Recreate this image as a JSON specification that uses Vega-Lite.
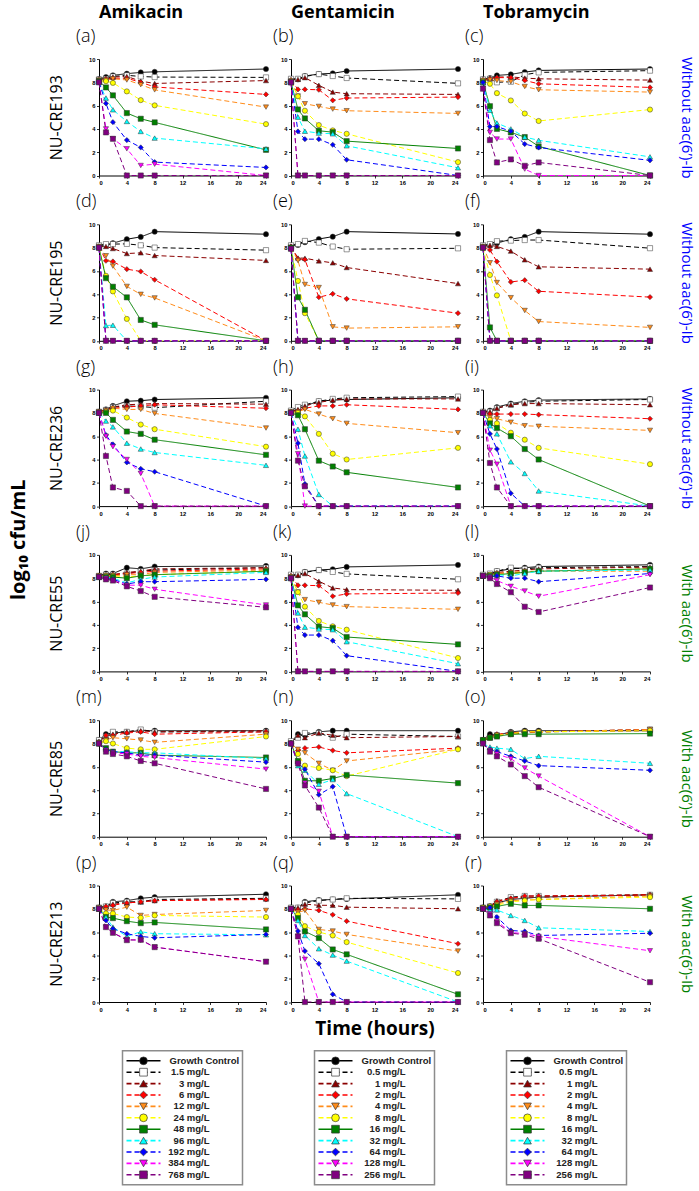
{
"$schema":"https://vega.github.io/schema/vega-lite/v6.json",
"padding":{"left":8,"top":4,"right":2,"bottom":2},
"datasets":{
"lgA":[{"k":0,"label":"Growth Control"},{"k":1,"label":"1.5 mg/L"},{"k":2,"label":"3 mg/L"},{"k":3,"label":"6 mg/L"},{"k":4,"label":"12 mg/L"},{"k":5,"label":"24 mg/L"},{"k":6,"label":"48 mg/L"},{"k":7,"label":"96 mg/L"},{"k":8,"label":"192 mg/L"},{"k":9,"label":"384 mg/L"},{"k":10,"label":"768 mg/L"}],
"lgG":[{"k":0,"label":"Growth Control"},{"k":1,"label":"0.5 mg/L"},{"k":2,"label":"1 mg/L"},{"k":3,"label":"2 mg/L"},{"k":4,"label":"4 mg/L"},{"k":5,"label":"8 mg/L"},{"k":6,"label":"16 mg/L"},{"k":7,"label":"32 mg/L"},{"k":8,"label":"64 mg/L"},{"k":9,"label":"128 mg/L"},{"k":10,"label":"256 mg/L"}],
"ts":[
{"p":"a","k":0,"t":0,"v":8.28},{"p":"a","k":0,"t":1,"v":8.45},{"p":"a","k":0,"t":2,"v":8.6},{"p":"a","k":0,"t":4,"v":8.74},{"p":"a","k":0,"t":6,"v":8.85},{"p":"a","k":0,"t":8,"v":8.9},{"p":"a","k":0,"t":24,"v":9.14},
{"p":"a","k":1,"t":0,"v":8.25},{"p":"a","k":1,"t":1,"v":8.3},{"p":"a","k":1,"t":2,"v":8.5},{"p":"a","k":1,"t":4,"v":8.6},{"p":"a","k":1,"t":6,"v":8.5},{"p":"a","k":1,"t":8,"v":8.45},{"p":"a","k":1,"t":24,"v":8.42},
{"p":"a","k":2,"t":0,"v":8.2},{"p":"a","k":2,"t":1,"v":8.3},{"p":"a","k":2,"t":2,"v":8.45},{"p":"a","k":2,"t":4,"v":8.5},{"p":"a","k":2,"t":6,"v":8.1},{"p":"a","k":2,"t":8,"v":7.9},{"p":"a","k":2,"t":24,"v":8.15},
{"p":"a","k":3,"t":0,"v":8.2},{"p":"a","k":3,"t":1,"v":8.3},{"p":"a","k":3,"t":2,"v":8.35},{"p":"a","k":3,"t":4,"v":8.35},{"p":"a","k":3,"t":6,"v":8.0},{"p":"a","k":3,"t":8,"v":7.6},{"p":"a","k":3,"t":24,"v":6.96},
{"p":"a","k":4,"t":0,"v":8.2},{"p":"a","k":4,"t":1,"v":8.2},{"p":"a","k":4,"t":2,"v":8.3},{"p":"a","k":4,"t":4,"v":8.2},{"p":"a","k":4,"t":6,"v":7.8},{"p":"a","k":4,"t":8,"v":7.35},{"p":"a","k":4,"t":24,"v":5.87},
{"p":"a","k":5,"t":0,"v":8.1},{"p":"a","k":5,"t":1,"v":8.1},{"p":"a","k":5,"t":2,"v":7.95},{"p":"a","k":5,"t":4,"v":7.22},{"p":"a","k":5,"t":6,"v":6.47},{"p":"a","k":5,"t":8,"v":6.02},{"p":"a","k":5,"t":24,"v":4.41},
{"p":"a","k":6,"t":0,"v":8.1},{"p":"a","k":6,"t":1,"v":7.56},{"p":"a","k":6,"t":2,"v":6.88},{"p":"a","k":6,"t":4,"v":5.36},{"p":"a","k":6,"t":6,"v":4.87},{"p":"a","k":6,"t":8,"v":4.56},{"p":"a","k":6,"t":24,"v":2.2},
{"p":"a","k":7,"t":0,"v":8.0},{"p":"a","k":7,"t":1,"v":6.65},{"p":"a","k":7,"t":2,"v":5.64},{"p":"a","k":7,"t":4,"v":4.64},{"p":"a","k":7,"t":6,"v":3.78},{"p":"a","k":7,"t":8,"v":3.21},{"p":"a","k":7,"t":24,"v":2.29},
{"p":"a","k":8,"t":0,"v":8.0},{"p":"a","k":8,"t":1,"v":6.19},{"p":"a","k":8,"t":2,"v":4.58},{"p":"a","k":8,"t":4,"v":3.04},{"p":"a","k":8,"t":6,"v":2.41},{"p":"a","k":8,"t":8,"v":1.15},{"p":"a","k":8,"t":24,"v":0.69},
{"p":"a","k":9,"t":0,"v":8.0},{"p":"a","k":9,"t":1,"v":4.0},{"p":"a","k":9,"t":2,"v":3.15},{"p":"a","k":9,"t":4,"v":2.29},{"p":"a","k":9,"t":6,"v":0.86},{"p":"a","k":9,"t":8,"v":0.97},{"p":"a","k":9,"t":24,"v":0},
{"p":"a","k":10,"t":0,"v":8.0},{"p":"a","k":10,"t":1,"v":3.7},{"p":"a","k":10,"t":2,"v":3.15},{"p":"a","k":10,"t":4,"v":0},{"p":"a","k":10,"t":6,"v":0},{"p":"a","k":10,"t":8,"v":0},{"p":"a","k":10,"t":24,"v":0},
{"p":"b","k":0,"t":0,"v":8.25},{"p":"b","k":0,"t":1,"v":8.25},{"p":"b","k":0,"t":2,"v":8.54},{"p":"b","k":0,"t":4,"v":8.71},{"p":"b","k":0,"t":6,"v":8.77},{"p":"b","k":0,"t":8,"v":8.97},{"p":"b","k":0,"t":24,"v":9.14},
{"p":"b","k":1,"t":0,"v":8.3},{"p":"b","k":1,"t":1,"v":8.3},{"p":"b","k":1,"t":2,"v":8.5},{"p":"b","k":1,"t":4,"v":8.7},{"p":"b","k":1,"t":6,"v":8.54},{"p":"b","k":1,"t":8,"v":8.37},{"p":"b","k":1,"t":24,"v":7.91},
{"p":"b","k":2,"t":0,"v":8.2},{"p":"b","k":2,"t":1,"v":8.25},{"p":"b","k":2,"t":2,"v":8.4},{"p":"b","k":2,"t":4,"v":7.74},{"p":"b","k":2,"t":6,"v":7.16},{"p":"b","k":2,"t":8,"v":7.02},{"p":"b","k":2,"t":24,"v":6.96},
{"p":"b","k":3,"t":0,"v":8.2},{"p":"b","k":3,"t":1,"v":7.39},{"p":"b","k":3,"t":2,"v":7.39},{"p":"b","k":3,"t":4,"v":7.36},{"p":"b","k":3,"t":6,"v":6.45},{"p":"b","k":3,"t":8,"v":6.65},{"p":"b","k":3,"t":24,"v":6.73},
{"p":"b","k":4,"t":0,"v":8.1},{"p":"b","k":4,"t":1,"v":6.82},{"p":"b","k":4,"t":2,"v":6.16},{"p":"b","k":4,"t":4,"v":5.93},{"p":"b","k":4,"t":6,"v":5.7},{"p":"b","k":4,"t":8,"v":5.56},{"p":"b","k":4,"t":24,"v":5.33},
{"p":"b","k":5,"t":0,"v":8.1},{"p":"b","k":5,"t":1,"v":6.8},{"p":"b","k":5,"t":2,"v":5.56},{"p":"b","k":5,"t":4,"v":4.33},{"p":"b","k":5,"t":6,"v":3.87},{"p":"b","k":5,"t":8,"v":3.58},{"p":"b","k":5,"t":24,"v":1.15},
{"p":"b","k":6,"t":0,"v":8.0},{"p":"b","k":6,"t":1,"v":5.67},{"p":"b","k":6,"t":2,"v":4.9},{"p":"b","k":6,"t":4,"v":3.84},{"p":"b","k":6,"t":6,"v":3.72},{"p":"b","k":6,"t":8,"v":2.95},{"p":"b","k":6,"t":24,"v":2.32},
{"p":"b","k":7,"t":0,"v":8.0},{"p":"b","k":7,"t":1,"v":5.01},{"p":"b","k":7,"t":2,"v":3.8},{"p":"b","k":7,"t":4,"v":3.64},{"p":"b","k":7,"t":6,"v":3.58},{"p":"b","k":7,"t":8,"v":2.55},{"p":"b","k":7,"t":24,"v":0.66},
{"p":"b","k":8,"t":0,"v":8.0},{"p":"b","k":8,"t":1,"v":3.78},{"p":"b","k":8,"t":2,"v":3.12},{"p":"b","k":8,"t":4,"v":3.12},{"p":"b","k":8,"t":6,"v":2.64},{"p":"b","k":8,"t":8,"v":1.35},{"p":"b","k":8,"t":24,"v":0},
{"p":"b","k":9,"t":0,"v":8.0},{"p":"b","k":9,"t":1,"v":0},{"p":"b","k":9,"t":2,"v":0},{"p":"b","k":9,"t":4,"v":0},{"p":"b","k":9,"t":6,"v":0},{"p":"b","k":9,"t":8,"v":0},{"p":"b","k":9,"t":24,"v":0},
{"p":"b","k":10,"t":0,"v":8.0},{"p":"b","k":10,"t":1,"v":0},{"p":"b","k":10,"t":2,"v":0},{"p":"b","k":10,"t":4,"v":0},{"p":"b","k":10,"t":6,"v":0},{"p":"b","k":10,"t":8,"v":0},{"p":"b","k":10,"t":24,"v":0},
{"p":"c","k":0,"t":0,"v":8.25},{"p":"c","k":0,"t":1,"v":8.36},{"p":"c","k":0,"t":2,"v":8.59},{"p":"c","k":0,"t":4,"v":8.68},{"p":"c","k":0,"t":6,"v":8.88},{"p":"c","k":0,"t":8,"v":9.02},{"p":"c","k":0,"t":24,"v":9.14},
{"p":"c","k":1,"t":0,"v":8.25},{"p":"c","k":1,"t":1,"v":8.3},{"p":"c","k":1,"t":2,"v":8.0},{"p":"c","k":1,"t":4,"v":8.05},{"p":"c","k":1,"t":6,"v":8.65},{"p":"c","k":1,"t":8,"v":8.85},{"p":"c","k":1,"t":24,"v":9.0},
{"p":"c","k":2,"t":0,"v":8.2},{"p":"c","k":2,"t":1,"v":8.35},{"p":"c","k":2,"t":2,"v":8.45},{"p":"c","k":2,"t":4,"v":8.47},{"p":"c","k":2,"t":6,"v":8.36},{"p":"c","k":2,"t":8,"v":8.3},{"p":"c","k":2,"t":24,"v":8.19},
{"p":"c","k":3,"t":0,"v":8.2},{"p":"c","k":3,"t":1,"v":8.3},{"p":"c","k":3,"t":2,"v":8.4},{"p":"c","k":3,"t":4,"v":8.4},{"p":"c","k":3,"t":6,"v":8.16},{"p":"c","k":3,"t":8,"v":7.87},{"p":"c","k":3,"t":24,"v":7.56},
{"p":"c","k":4,"t":0,"v":8.15},{"p":"c","k":4,"t":1,"v":8.2},{"p":"c","k":4,"t":2,"v":8.15},{"p":"c","k":4,"t":4,"v":8.05},{"p":"c","k":4,"t":6,"v":7.64},{"p":"c","k":4,"t":8,"v":7.36},{"p":"c","k":4,"t":24,"v":7.16},
{"p":"c","k":5,"t":0,"v":8.1},{"p":"c","k":5,"t":1,"v":7.87},{"p":"c","k":5,"t":2,"v":7.07},{"p":"c","k":5,"t":4,"v":6.44},{"p":"c","k":5,"t":6,"v":5.32},{"p":"c","k":5,"t":8,"v":4.68},{"p":"c","k":5,"t":24,"v":5.66},
{"p":"c","k":6,"t":0,"v":8.0},{"p":"c","k":6,"t":1,"v":5.95},{"p":"c","k":6,"t":2,"v":4.0},{"p":"c","k":6,"t":4,"v":3.7},{"p":"c","k":6,"t":6,"v":3.3},{"p":"c","k":6,"t":8,"v":2.5},{"p":"c","k":6,"t":24,"v":0},
{"p":"c","k":7,"t":0,"v":8.0},{"p":"c","k":7,"t":1,"v":5.6},{"p":"c","k":7,"t":2,"v":4.5},{"p":"c","k":7,"t":4,"v":4.0},{"p":"c","k":7,"t":6,"v":3.3},{"p":"c","k":7,"t":8,"v":3.02},{"p":"c","k":7,"t":24,"v":1.6},
{"p":"c","k":8,"t":0,"v":8.0},{"p":"c","k":8,"t":1,"v":4.2},{"p":"c","k":8,"t":2,"v":4.2},{"p":"c","k":8,"t":4,"v":3.8},{"p":"c","k":8,"t":6,"v":2.7},{"p":"c","k":8,"t":8,"v":2.4},{"p":"c","k":8,"t":24,"v":1.3},
{"p":"c","k":9,"t":0,"v":7.5},{"p":"c","k":9,"t":1,"v":3.7},{"p":"c","k":9,"t":2,"v":3.13},{"p":"c","k":9,"t":4,"v":3.13},{"p":"c","k":9,"t":6,"v":0.55},{"p":"c","k":9,"t":8,"v":0},{"p":"c","k":9,"t":24,"v":0},
{"p":"c","k":10,"t":0,"v":7.45},{"p":"c","k":10,"t":1,"v":3.04},{"p":"c","k":10,"t":2,"v":1.12},{"p":"c","k":10,"t":4,"v":1.38},{"p":"c","k":10,"t":6,"v":0.83},{"p":"c","k":10,"t":8,"v":1.12},{"p":"c","k":10,"t":24,"v":0},
{"p":"d","k":0,"t":0,"v":8.12},{"p":"d","k":0,"t":1,"v":8.2},{"p":"d","k":0,"t":2,"v":8.38},{"p":"d","k":0,"t":4,"v":8.72},{"p":"d","k":0,"t":6,"v":8.92},{"p":"d","k":0,"t":8,"v":9.37},{"p":"d","k":0,"t":24,"v":9.15},
{"p":"d","k":1,"t":0,"v":8.2},{"p":"d","k":1,"t":1,"v":8.3},{"p":"d","k":1,"t":2,"v":8.3},{"p":"d","k":1,"t":4,"v":8.32},{"p":"d","k":1,"t":6,"v":8.2},{"p":"d","k":1,"t":8,"v":8.0},{"p":"d","k":1,"t":24,"v":7.78},
{"p":"d","k":2,"t":0,"v":8.1},{"p":"d","k":2,"t":1,"v":8.1},{"p":"d","k":2,"t":2,"v":7.92},{"p":"d","k":2,"t":4,"v":7.49},{"p":"d","k":2,"t":6,"v":7.55},{"p":"d","k":2,"t":8,"v":7.32},{"p":"d","k":2,"t":24,"v":6.9},
{"p":"d","k":3,"t":0,"v":8.1},{"p":"d","k":3,"t":1,"v":6.87},{"p":"d","k":3,"t":2,"v":6.81},{"p":"d","k":3,"t":4,"v":6.15},{"p":"d","k":3,"t":6,"v":5.95},{"p":"d","k":3,"t":8,"v":5.24},{"p":"d","k":3,"t":24,"v":0},
{"p":"d","k":4,"t":0,"v":8.1},{"p":"d","k":4,"t":1,"v":7.3},{"p":"d","k":4,"t":2,"v":6.41},{"p":"d","k":4,"t":4,"v":4.67},{"p":"d","k":4,"t":6,"v":3.99},{"p":"d","k":4,"t":8,"v":3.68},{"p":"d","k":4,"t":24,"v":0},
{"p":"d","k":5,"t":0,"v":8.0},{"p":"d","k":5,"t":1,"v":5.58},{"p":"d","k":5,"t":2,"v":4.24},{"p":"d","k":5,"t":4,"v":1.88},{"p":"d","k":5,"t":6,"v":0},{"p":"d","k":5,"t":8,"v":0},{"p":"d","k":5,"t":24,"v":0},
{"p":"d","k":6,"t":0,"v":8.0},{"p":"d","k":6,"t":1,"v":5.38},{"p":"d","k":6,"t":2,"v":4.64},{"p":"d","k":6,"t":4,"v":3.73},{"p":"d","k":6,"t":6,"v":1.79},{"p":"d","k":6,"t":8,"v":1.37},{"p":"d","k":6,"t":24,"v":0},
{"p":"d","k":7,"t":0,"v":8.0},{"p":"d","k":7,"t":1,"v":1.31},{"p":"d","k":7,"t":2,"v":1.34},{"p":"d","k":7,"t":4,"v":0},{"p":"d","k":7,"t":6,"v":0},{"p":"d","k":7,"t":8,"v":0},{"p":"d","k":7,"t":24,"v":0},
{"p":"d","k":8,"t":0,"v":8.0},{"p":"d","k":8,"t":1,"v":0},{"p":"d","k":8,"t":2,"v":0},{"p":"d","k":8,"t":4,"v":0},{"p":"d","k":8,"t":6,"v":0},{"p":"d","k":8,"t":8,"v":0},{"p":"d","k":8,"t":24,"v":0},
{"p":"d","k":9,"t":0,"v":8.0},{"p":"d","k":9,"t":1,"v":0},{"p":"d","k":9,"t":2,"v":0},{"p":"d","k":9,"t":4,"v":0},{"p":"d","k":9,"t":6,"v":0},{"p":"d","k":9,"t":8,"v":0},{"p":"d","k":9,"t":24,"v":0},
{"p":"d","k":10,"t":0,"v":8.0},{"p":"d","k":10,"t":1,"v":0},{"p":"d","k":10,"t":2,"v":0},{"p":"d","k":10,"t":4,"v":0},{"p":"d","k":10,"t":6,"v":0},{"p":"d","k":10,"t":8,"v":0},{"p":"d","k":10,"t":24,"v":0},
{"p":"e","k":0,"t":0,"v":8.17},{"p":"e","k":0,"t":1,"v":8.23},{"p":"e","k":0,"t":2,"v":8.46},{"p":"e","k":0,"t":4,"v":8.74},{"p":"e","k":0,"t":6,"v":8.94},{"p":"e","k":0,"t":8,"v":9.37},{"p":"e","k":0,"t":24,"v":9.17},
{"p":"e","k":1,"t":0,"v":8.2},{"p":"e","k":1,"t":1,"v":8.3},{"p":"e","k":1,"t":2,"v":8.57},{"p":"e","k":1,"t":4,"v":8.43},{"p":"e","k":1,"t":6,"v":8.09},{"p":"e","k":1,"t":8,"v":7.86},{"p":"e","k":1,"t":24,"v":7.94},
{"p":"e","k":2,"t":0,"v":8.1},{"p":"e","k":2,"t":1,"v":7.11},{"p":"e","k":2,"t":2,"v":7.09},{"p":"e","k":2,"t":4,"v":6.86},{"p":"e","k":2,"t":6,"v":6.69},{"p":"e","k":2,"t":8,"v":6.29},{"p":"e","k":2,"t":24,"v":4.91},
{"p":"e","k":3,"t":0,"v":8.1},{"p":"e","k":3,"t":1,"v":7.03},{"p":"e","k":3,"t":2,"v":6.97},{"p":"e","k":3,"t":4,"v":3.74},{"p":"e","k":3,"t":6,"v":4.03},{"p":"e","k":3,"t":8,"v":3.6},{"p":"e","k":3,"t":24,"v":2.37},
{"p":"e","k":4,"t":0,"v":8.0},{"p":"e","k":4,"t":1,"v":6.89},{"p":"e","k":4,"t":2,"v":4.83},{"p":"e","k":4,"t":4,"v":4.57},{"p":"e","k":4,"t":6,"v":1.2},{"p":"e","k":4,"t":8,"v":1.09},{"p":"e","k":4,"t":24,"v":1.2},
{"p":"e","k":5,"t":0,"v":8.0},{"p":"e","k":5,"t":1,"v":5.14},{"p":"e","k":5,"t":2,"v":2.37},{"p":"e","k":5,"t":4,"v":0},{"p":"e","k":5,"t":6,"v":0},{"p":"e","k":5,"t":8,"v":0},{"p":"e","k":5,"t":24,"v":0},
{"p":"e","k":6,"t":0,"v":8.0},{"p":"e","k":6,"t":1,"v":3.74},{"p":"e","k":6,"t":2,"v":2.66},{"p":"e","k":6,"t":4,"v":0},{"p":"e","k":6,"t":6,"v":0},{"p":"e","k":6,"t":8,"v":0},{"p":"e","k":6,"t":24,"v":0},
{"p":"e","k":7,"t":0,"v":7.9},{"p":"e","k":7,"t":1,"v":0},{"p":"e","k":7,"t":2,"v":0},{"p":"e","k":7,"t":4,"v":0},{"p":"e","k":7,"t":6,"v":0},{"p":"e","k":7,"t":8,"v":0},{"p":"e","k":7,"t":24,"v":0},
{"p":"e","k":8,"t":0,"v":7.9},{"p":"e","k":8,"t":1,"v":0},{"p":"e","k":8,"t":2,"v":0},{"p":"e","k":8,"t":4,"v":0},{"p":"e","k":8,"t":6,"v":0},{"p":"e","k":8,"t":8,"v":0},{"p":"e","k":8,"t":24,"v":0},
{"p":"e","k":9,"t":0,"v":7.9},{"p":"e","k":9,"t":1,"v":0},{"p":"e","k":9,"t":2,"v":0},{"p":"e","k":9,"t":4,"v":0},{"p":"e","k":9,"t":6,"v":0},{"p":"e","k":9,"t":8,"v":0},{"p":"e","k":9,"t":24,"v":0},
{"p":"e","k":10,"t":0,"v":7.9},{"p":"e","k":10,"t":1,"v":0},{"p":"e","k":10,"t":2,"v":0},{"p":"e","k":10,"t":4,"v":0},{"p":"e","k":10,"t":6,"v":0},{"p":"e","k":10,"t":8,"v":0},{"p":"e","k":10,"t":24,"v":0},
{"p":"f","k":0,"t":0,"v":8.12},{"p":"f","k":0,"t":1,"v":8.2},{"p":"f","k":0,"t":2,"v":8.38},{"p":"f","k":0,"t":4,"v":8.72},{"p":"f","k":0,"t":6,"v":8.92},{"p":"f","k":0,"t":8,"v":9.37},{"p":"f","k":0,"t":24,"v":9.15},
{"p":"f","k":1,"t":0,"v":8.2},{"p":"f","k":1,"t":1,"v":8.3},{"p":"f","k":1,"t":2,"v":8.55},{"p":"f","k":1,"t":4,"v":8.6},{"p":"f","k":1,"t":6,"v":8.65},{"p":"f","k":1,"t":8,"v":8.65},{"p":"f","k":1,"t":24,"v":7.95},
{"p":"f","k":2,"t":0,"v":8.1},{"p":"f","k":2,"t":1,"v":8.2},{"p":"f","k":2,"t":2,"v":8.1},{"p":"f","k":2,"t":4,"v":7.7},{"p":"f","k":2,"t":6,"v":6.95},{"p":"f","k":2,"t":8,"v":6.35},{"p":"f","k":2,"t":24,"v":6.15},
{"p":"f","k":3,"t":0,"v":8.1},{"p":"f","k":3,"t":1,"v":7.8},{"p":"f","k":3,"t":2,"v":6.8},{"p":"f","k":3,"t":4,"v":5.05},{"p":"f","k":3,"t":6,"v":5.2},{"p":"f","k":3,"t":8,"v":4.25},{"p":"f","k":3,"t":24,"v":3.75},
{"p":"f","k":4,"t":0,"v":8.1},{"p":"f","k":4,"t":1,"v":6.7},{"p":"f","k":4,"t":2,"v":5.0},{"p":"f","k":4,"t":4,"v":3.7},{"p":"f","k":4,"t":6,"v":2.6},{"p":"f","k":4,"t":8,"v":1.65},{"p":"f","k":4,"t":24,"v":1.15},
{"p":"f","k":5,"t":0,"v":8.0},{"p":"f","k":5,"t":1,"v":5.65},{"p":"f","k":5,"t":2,"v":3.9},{"p":"f","k":5,"t":4,"v":0},{"p":"f","k":5,"t":6,"v":0},{"p":"f","k":5,"t":8,"v":0},{"p":"f","k":5,"t":24,"v":0},
{"p":"f","k":6,"t":0,"v":8.0},{"p":"f","k":6,"t":1,"v":1.15},{"p":"f","k":6,"t":2,"v":0},{"p":"f","k":6,"t":4,"v":0},{"p":"f","k":6,"t":6,"v":0},{"p":"f","k":6,"t":8,"v":0},{"p":"f","k":6,"t":24,"v":0},
{"p":"f","k":7,"t":0,"v":8.0},{"p":"f","k":7,"t":1,"v":0},{"p":"f","k":7,"t":2,"v":0},{"p":"f","k":7,"t":4,"v":0},{"p":"f","k":7,"t":6,"v":0},{"p":"f","k":7,"t":8,"v":0},{"p":"f","k":7,"t":24,"v":0},
{"p":"f","k":8,"t":0,"v":8.0},{"p":"f","k":8,"t":1,"v":0},{"p":"f","k":8,"t":2,"v":0},{"p":"f","k":8,"t":4,"v":0},{"p":"f","k":8,"t":6,"v":0},{"p":"f","k":8,"t":8,"v":0},{"p":"f","k":8,"t":24,"v":0},
{"p":"f","k":9,"t":0,"v":8.0},{"p":"f","k":9,"t":1,"v":0},{"p":"f","k":9,"t":2,"v":0},{"p":"f","k":9,"t":4,"v":0},{"p":"f","k":9,"t":6,"v":0},{"p":"f","k":9,"t":8,"v":0},{"p":"f","k":9,"t":24,"v":0},
{"p":"f","k":10,"t":0,"v":8.0},{"p":"f","k":10,"t":1,"v":0},{"p":"f","k":10,"t":2,"v":0},{"p":"f","k":10,"t":4,"v":0},{"p":"f","k":10,"t":6,"v":0},{"p":"f","k":10,"t":8,"v":0},{"p":"f","k":10,"t":24,"v":0},
{"p":"g","k":0,"t":0,"v":8.1},{"p":"g","k":0,"t":1,"v":8.3},{"p":"g","k":0,"t":2,"v":8.6},{"p":"g","k":0,"t":4,"v":9.0},{"p":"g","k":0,"t":6,"v":9.05},{"p":"g","k":0,"t":8,"v":9.15},{"p":"g","k":0,"t":24,"v":9.3},
{"p":"g","k":1,"t":0,"v":8.1},{"p":"g","k":1,"t":1,"v":8.25},{"p":"g","k":1,"t":2,"v":8.5},{"p":"g","k":1,"t":4,"v":8.6},{"p":"g","k":1,"t":6,"v":8.55},{"p":"g","k":1,"t":8,"v":8.45},{"p":"g","k":1,"t":24,"v":9.0},
{"p":"g","k":2,"t":0,"v":8.1},{"p":"g","k":2,"t":1,"v":8.3},{"p":"g","k":2,"t":2,"v":8.5},{"p":"g","k":2,"t":4,"v":8.7},{"p":"g","k":2,"t":6,"v":8.75},{"p":"g","k":2,"t":8,"v":8.8},{"p":"g","k":2,"t":24,"v":8.75},
{"p":"g","k":3,"t":0,"v":8.1},{"p":"g","k":3,"t":1,"v":8.2},{"p":"g","k":3,"t":2,"v":8.4},{"p":"g","k":3,"t":4,"v":8.5},{"p":"g","k":3,"t":6,"v":8.6},{"p":"g","k":3,"t":8,"v":8.7},{"p":"g","k":3,"t":24,"v":8.4},
{"p":"g","k":4,"t":0,"v":8.1},{"p":"g","k":4,"t":1,"v":8.2},{"p":"g","k":4,"t":2,"v":8.4},{"p":"g","k":4,"t":4,"v":8.3},{"p":"g","k":4,"t":6,"v":8.3},{"p":"g","k":4,"t":8,"v":7.95},{"p":"g","k":4,"t":24,"v":6.7},
{"p":"g","k":5,"t":0,"v":8.0},{"p":"g","k":5,"t":1,"v":8.1},{"p":"g","k":5,"t":2,"v":8.2},{"p":"g","k":5,"t":4,"v":7.6},{"p":"g","k":5,"t":6,"v":7.0},{"p":"g","k":5,"t":8,"v":6.6},{"p":"g","k":5,"t":24,"v":5.1},
{"p":"g","k":6,"t":0,"v":8.0},{"p":"g","k":6,"t":1,"v":8.0},{"p":"g","k":6,"t":2,"v":7.4},{"p":"g","k":6,"t":4,"v":6.4},{"p":"g","k":6,"t":6,"v":6.2},{"p":"g","k":6,"t":8,"v":5.7},{"p":"g","k":6,"t":24,"v":4.4},
{"p":"g","k":7,"t":0,"v":8.0},{"p":"g","k":7,"t":1,"v":7.3},{"p":"g","k":7,"t":2,"v":6.8},{"p":"g","k":7,"t":4,"v":5.4},{"p":"g","k":7,"t":6,"v":4.9},{"p":"g","k":7,"t":8,"v":4.6},{"p":"g","k":7,"t":24,"v":3.5},
{"p":"g","k":8,"t":0,"v":8.0},{"p":"g","k":8,"t":1,"v":6.1},{"p":"g","k":8,"t":2,"v":5.3},{"p":"g","k":8,"t":4,"v":3.75},{"p":"g","k":8,"t":6,"v":3.2},{"p":"g","k":8,"t":8,"v":2.95},{"p":"g","k":8,"t":24,"v":0},
{"p":"g","k":9,"t":0,"v":8.0},{"p":"g","k":9,"t":1,"v":6.0},{"p":"g","k":9,"t":2,"v":5.1},{"p":"g","k":9,"t":4,"v":4.0},{"p":"g","k":9,"t":6,"v":2.8},{"p":"g","k":9,"t":8,"v":0},{"p":"g","k":9,"t":24,"v":0},
{"p":"g","k":10,"t":0,"v":8.0},{"p":"g","k":10,"t":1,"v":4.3},{"p":"g","k":10,"t":2,"v":1.6},{"p":"g","k":10,"t":4,"v":1.3},{"p":"g","k":10,"t":6,"v":0},{"p":"g","k":10,"t":8,"v":0},{"p":"g","k":10,"t":24,"v":0},
{"p":"h","k":0,"t":0,"v":8.1},{"p":"h","k":0,"t":1,"v":8.3},{"p":"h","k":0,"t":2,"v":8.6},{"p":"h","k":0,"t":4,"v":9.0},{"p":"h","k":0,"t":6,"v":9.1},{"p":"h","k":0,"t":8,"v":9.15},{"p":"h","k":0,"t":24,"v":9.3},
{"p":"h","k":1,"t":0,"v":8.2},{"p":"h","k":1,"t":1,"v":8.5},{"p":"h","k":1,"t":2,"v":8.7},{"p":"h","k":1,"t":4,"v":9.0},{"p":"h","k":1,"t":6,"v":9.2},{"p":"h","k":1,"t":8,"v":9.3},{"p":"h","k":1,"t":24,"v":9.4},
{"p":"h","k":2,"t":0,"v":8.1},{"p":"h","k":2,"t":1,"v":8.3},{"p":"h","k":2,"t":2,"v":8.6},{"p":"h","k":2,"t":4,"v":8.9},{"p":"h","k":2,"t":6,"v":9.1},{"p":"h","k":2,"t":8,"v":9.2},{"p":"h","k":2,"t":24,"v":9.2},
{"p":"h","k":3,"t":0,"v":8.1},{"p":"h","k":3,"t":1,"v":8.2},{"p":"h","k":3,"t":2,"v":8.4},{"p":"h","k":3,"t":4,"v":8.6},{"p":"h","k":3,"t":6,"v":8.6},{"p":"h","k":3,"t":8,"v":8.7},{"p":"h","k":3,"t":24,"v":8.3},
{"p":"h","k":4,"t":0,"v":8.1},{"p":"h","k":4,"t":1,"v":8.1},{"p":"h","k":4,"t":2,"v":8.3},{"p":"h","k":4,"t":4,"v":7.9},{"p":"h","k":4,"t":6,"v":7.5},{"p":"h","k":4,"t":8,"v":7.1},{"p":"h","k":4,"t":24,"v":6.3},
{"p":"h","k":5,"t":0,"v":8.0},{"p":"h","k":5,"t":1,"v":8.0},{"p":"h","k":5,"t":2,"v":7.7},{"p":"h","k":5,"t":4,"v":6.2},{"p":"h","k":5,"t":6,"v":4.5},{"p":"h","k":5,"t":8,"v":4.0},{"p":"h","k":5,"t":24,"v":5.0},
{"p":"h","k":6,"t":0,"v":8.0},{"p":"h","k":6,"t":1,"v":7.8},{"p":"h","k":6,"t":2,"v":6.6},{"p":"h","k":6,"t":4,"v":3.9},{"p":"h","k":6,"t":6,"v":3.4},{"p":"h","k":6,"t":8,"v":2.9},{"p":"h","k":6,"t":24,"v":1.6},
{"p":"h","k":7,"t":0,"v":8.0},{"p":"h","k":7,"t":1,"v":6.6},{"p":"h","k":7,"t":2,"v":4.3},{"p":"h","k":7,"t":4,"v":1.0},{"p":"h","k":7,"t":6,"v":0},{"p":"h","k":7,"t":8,"v":0},{"p":"h","k":7,"t":24,"v":0},
{"p":"h","k":8,"t":0,"v":8.0},{"p":"h","k":8,"t":1,"v":5.4},{"p":"h","k":8,"t":2,"v":1.9},{"p":"h","k":8,"t":4,"v":0},{"p":"h","k":8,"t":6,"v":0},{"p":"h","k":8,"t":8,"v":0},{"p":"h","k":8,"t":24,"v":0},
{"p":"h","k":9,"t":0,"v":8.0},{"p":"h","k":9,"t":1,"v":4.5},{"p":"h","k":9,"t":2,"v":0},{"p":"h","k":9,"t":4,"v":0},{"p":"h","k":9,"t":6,"v":0},{"p":"h","k":9,"t":8,"v":0},{"p":"h","k":9,"t":24,"v":0},
{"p":"h","k":10,"t":0,"v":8.0},{"p":"h","k":10,"t":1,"v":3.9},{"p":"h","k":10,"t":2,"v":1.7},{"p":"h","k":10,"t":4,"v":0},{"p":"h","k":10,"t":6,"v":0},{"p":"h","k":10,"t":8,"v":0},{"p":"h","k":10,"t":24,"v":0},
{"p":"i","k":0,"t":0,"v":8.1},{"p":"i","k":0,"t":1,"v":8.2},{"p":"i","k":0,"t":2,"v":8.5},{"p":"i","k":0,"t":4,"v":8.8},{"p":"i","k":0,"t":6,"v":9.0},{"p":"i","k":0,"t":8,"v":9.1},{"p":"i","k":0,"t":24,"v":9.2},
{"p":"i","k":1,"t":0,"v":8.1},{"p":"i","k":1,"t":1,"v":8.1},{"p":"i","k":1,"t":2,"v":8.4},{"p":"i","k":1,"t":4,"v":8.7},{"p":"i","k":1,"t":6,"v":8.9},{"p":"i","k":1,"t":8,"v":9.0},{"p":"i","k":1,"t":24,"v":9.15},
{"p":"i","k":2,"t":0,"v":8.1},{"p":"i","k":2,"t":1,"v":8.1},{"p":"i","k":2,"t":2,"v":8.4},{"p":"i","k":2,"t":4,"v":8.7},{"p":"i","k":2,"t":6,"v":8.8},{"p":"i","k":2,"t":8,"v":8.8},{"p":"i","k":2,"t":24,"v":8.7},
{"p":"i","k":3,"t":0,"v":8.1},{"p":"i","k":3,"t":1,"v":7.9},{"p":"i","k":3,"t":2,"v":7.9},{"p":"i","k":3,"t":4,"v":7.9},{"p":"i","k":3,"t":6,"v":7.9},{"p":"i","k":3,"t":8,"v":7.85},{"p":"i","k":3,"t":24,"v":7.5},
{"p":"i","k":4,"t":0,"v":8.0},{"p":"i","k":4,"t":1,"v":7.6},{"p":"i","k":4,"t":2,"v":7.5},{"p":"i","k":4,"t":4,"v":7.2},{"p":"i","k":4,"t":6,"v":6.9},{"p":"i","k":4,"t":8,"v":6.85},{"p":"i","k":4,"t":24,"v":6.5},
{"p":"i","k":5,"t":0,"v":8.0},{"p":"i","k":5,"t":1,"v":7.4},{"p":"i","k":5,"t":2,"v":7.1},{"p":"i","k":5,"t":4,"v":6.3},{"p":"i","k":5,"t":6,"v":5.7},{"p":"i","k":5,"t":8,"v":5.0},{"p":"i","k":5,"t":24,"v":3.6},
{"p":"i","k":6,"t":0,"v":8.0},{"p":"i","k":6,"t":1,"v":7.1},{"p":"i","k":6,"t":2,"v":6.7},{"p":"i","k":6,"t":4,"v":6.0},{"p":"i","k":6,"t":6,"v":4.9},{"p":"i","k":6,"t":8,"v":4.0},{"p":"i","k":6,"t":24,"v":0},
{"p":"i","k":7,"t":0,"v":8.0},{"p":"i","k":7,"t":1,"v":6.9},{"p":"i","k":7,"t":2,"v":6.2},{"p":"i","k":7,"t":4,"v":3.8},{"p":"i","k":7,"t":6,"v":2.8},{"p":"i","k":7,"t":8,"v":1.3},{"p":"i","k":7,"t":24,"v":0},
{"p":"i","k":8,"t":0,"v":8.0},{"p":"i","k":8,"t":1,"v":6.2},{"p":"i","k":8,"t":2,"v":4.9},{"p":"i","k":8,"t":4,"v":1.1},{"p":"i","k":8,"t":6,"v":0},{"p":"i","k":8,"t":8,"v":0},{"p":"i","k":8,"t":24,"v":0},
{"p":"i","k":9,"t":0,"v":8.0},{"p":"i","k":9,"t":1,"v":4.8},{"p":"i","k":9,"t":2,"v":3.6},{"p":"i","k":9,"t":4,"v":0},{"p":"i","k":9,"t":6,"v":0},{"p":"i","k":9,"t":8,"v":0},{"p":"i","k":9,"t":24,"v":0},
{"p":"i","k":10,"t":0,"v":8.0},{"p":"i","k":10,"t":1,"v":3.7},{"p":"i","k":10,"t":2,"v":1.6},{"p":"i","k":10,"t":4,"v":0},{"p":"i","k":10,"t":6,"v":0},{"p":"i","k":10,"t":8,"v":0},{"p":"i","k":10,"t":24,"v":0},
{"p":"j","k":0,"t":0,"v":8.2},{"p":"j","k":0,"t":1,"v":8.4},{"p":"j","k":0,"t":2,"v":8.4},{"p":"j","k":0,"t":4,"v":8.9},{"p":"j","k":0,"t":6,"v":8.8},{"p":"j","k":0,"t":8,"v":9.0},{"p":"j","k":0,"t":24,"v":9.05},
{"p":"j","k":1,"t":0,"v":8.2},{"p":"j","k":1,"t":1,"v":8.3},{"p":"j","k":1,"t":2,"v":8.3},{"p":"j","k":1,"t":4,"v":8.4},{"p":"j","k":1,"t":6,"v":8.6},{"p":"j","k":1,"t":8,"v":8.7},{"p":"j","k":1,"t":24,"v":8.9},
{"p":"j","k":2,"t":0,"v":8.2},{"p":"j","k":2,"t":1,"v":8.3},{"p":"j","k":2,"t":2,"v":8.3},{"p":"j","k":2,"t":4,"v":8.5},{"p":"j","k":2,"t":6,"v":8.6},{"p":"j","k":2,"t":8,"v":8.8},{"p":"j","k":2,"t":24,"v":8.9},
{"p":"j","k":3,"t":0,"v":8.2},{"p":"j","k":3,"t":1,"v":8.2},{"p":"j","k":3,"t":2,"v":8.3},{"p":"j","k":3,"t":4,"v":8.4},{"p":"j","k":3,"t":6,"v":8.5},{"p":"j","k":3,"t":8,"v":8.6},{"p":"j","k":3,"t":24,"v":8.8},
{"p":"j","k":4,"t":0,"v":8.2},{"p":"j","k":4,"t":1,"v":8.2},{"p":"j","k":4,"t":2,"v":8.2},{"p":"j","k":4,"t":4,"v":8.3},{"p":"j","k":4,"t":6,"v":8.3},{"p":"j","k":4,"t":8,"v":8.5},{"p":"j","k":4,"t":24,"v":8.7},
{"p":"j","k":5,"t":0,"v":8.1},{"p":"j","k":5,"t":1,"v":8.2},{"p":"j","k":5,"t":2,"v":8.2},{"p":"j","k":5,"t":4,"v":8.1},{"p":"j","k":5,"t":6,"v":8.2},{"p":"j","k":5,"t":8,"v":8.3},{"p":"j","k":5,"t":24,"v":8.6},
{"p":"j","k":6,"t":0,"v":8.1},{"p":"j","k":6,"t":1,"v":8.1},{"p":"j","k":6,"t":2,"v":8.1},{"p":"j","k":6,"t":4,"v":8.0},{"p":"j","k":6,"t":6,"v":8.2},{"p":"j","k":6,"t":8,"v":8.3},{"p":"j","k":6,"t":24,"v":8.6},
{"p":"j","k":7,"t":0,"v":8.1},{"p":"j","k":7,"t":1,"v":8.1},{"p":"j","k":7,"t":2,"v":8.0},{"p":"j","k":7,"t":4,"v":7.6},{"p":"j","k":7,"t":6,"v":7.9},{"p":"j","k":7,"t":8,"v":8.1},{"p":"j","k":7,"t":24,"v":8.5},
{"p":"j","k":8,"t":0,"v":8.1},{"p":"j","k":8,"t":1,"v":8.0},{"p":"j","k":8,"t":2,"v":7.9},{"p":"j","k":8,"t":4,"v":7.5},{"p":"j","k":8,"t":6,"v":7.7},{"p":"j","k":8,"t":8,"v":7.7},{"p":"j","k":8,"t":24,"v":7.9},
{"p":"j","k":9,"t":0,"v":8.1},{"p":"j","k":9,"t":1,"v":8.0},{"p":"j","k":9,"t":2,"v":7.8},{"p":"j","k":9,"t":4,"v":7.4},{"p":"j","k":9,"t":6,"v":7.4},{"p":"j","k":9,"t":8,"v":7.05},{"p":"j","k":9,"t":24,"v":5.7},
{"p":"j","k":10,"t":0,"v":8.1},{"p":"j","k":10,"t":1,"v":7.9},{"p":"j","k":10,"t":2,"v":7.8},{"p":"j","k":10,"t":4,"v":7.3},{"p":"j","k":10,"t":6,"v":6.9},{"p":"j","k":10,"t":8,"v":6.4},{"p":"j","k":10,"t":24,"v":5.5},
{"p":"k","k":0,"t":0,"v":8.25},{"p":"k","k":0,"t":1,"v":8.25},{"p":"k","k":0,"t":2,"v":8.54},{"p":"k","k":0,"t":4,"v":8.71},{"p":"k","k":0,"t":6,"v":8.77},{"p":"k","k":0,"t":8,"v":8.97},{"p":"k","k":0,"t":24,"v":9.14},
{"p":"k","k":1,"t":0,"v":8.3},{"p":"k","k":1,"t":1,"v":8.3},{"p":"k","k":1,"t":2,"v":8.5},{"p":"k","k":1,"t":4,"v":8.7},{"p":"k","k":1,"t":6,"v":8.54},{"p":"k","k":1,"t":8,"v":8.37},{"p":"k","k":1,"t":24,"v":7.91},
{"p":"k","k":2,"t":0,"v":8.2},{"p":"k","k":2,"t":1,"v":8.25},{"p":"k","k":2,"t":2,"v":8.4},{"p":"k","k":2,"t":4,"v":7.74},{"p":"k","k":2,"t":6,"v":7.16},{"p":"k","k":2,"t":8,"v":7.02},{"p":"k","k":2,"t":24,"v":6.96},
{"p":"k","k":3,"t":0,"v":8.2},{"p":"k","k":3,"t":1,"v":7.39},{"p":"k","k":3,"t":2,"v":7.39},{"p":"k","k":3,"t":4,"v":7.36},{"p":"k","k":3,"t":6,"v":6.45},{"p":"k","k":3,"t":8,"v":6.65},{"p":"k","k":3,"t":24,"v":6.73},
{"p":"k","k":4,"t":0,"v":8.1},{"p":"k","k":4,"t":1,"v":6.82},{"p":"k","k":4,"t":2,"v":6.16},{"p":"k","k":4,"t":4,"v":5.93},{"p":"k","k":4,"t":6,"v":5.7},{"p":"k","k":4,"t":8,"v":5.56},{"p":"k","k":4,"t":24,"v":5.33},
{"p":"k","k":5,"t":0,"v":8.1},{"p":"k","k":5,"t":1,"v":6.8},{"p":"k","k":5,"t":2,"v":5.56},{"p":"k","k":5,"t":4,"v":4.33},{"p":"k","k":5,"t":6,"v":3.87},{"p":"k","k":5,"t":8,"v":3.58},{"p":"k","k":5,"t":24,"v":1.15},
{"p":"k","k":6,"t":0,"v":8.0},{"p":"k","k":6,"t":1,"v":5.67},{"p":"k","k":6,"t":2,"v":4.9},{"p":"k","k":6,"t":4,"v":3.84},{"p":"k","k":6,"t":6,"v":3.72},{"p":"k","k":6,"t":8,"v":2.95},{"p":"k","k":6,"t":24,"v":2.32},
{"p":"k","k":7,"t":0,"v":8.0},{"p":"k","k":7,"t":1,"v":5.01},{"p":"k","k":7,"t":2,"v":3.8},{"p":"k","k":7,"t":4,"v":3.64},{"p":"k","k":7,"t":6,"v":3.58},{"p":"k","k":7,"t":8,"v":2.55},{"p":"k","k":7,"t":24,"v":0.66},
{"p":"k","k":8,"t":0,"v":8.0},{"p":"k","k":8,"t":1,"v":3.78},{"p":"k","k":8,"t":2,"v":3.12},{"p":"k","k":8,"t":4,"v":3.12},{"p":"k","k":8,"t":6,"v":2.64},{"p":"k","k":8,"t":8,"v":1.35},{"p":"k","k":8,"t":24,"v":0},
{"p":"k","k":9,"t":0,"v":8.0},{"p":"k","k":9,"t":1,"v":0},{"p":"k","k":9,"t":2,"v":0},{"p":"k","k":9,"t":4,"v":0},{"p":"k","k":9,"t":6,"v":0},{"p":"k","k":9,"t":8,"v":0},{"p":"k","k":9,"t":24,"v":0},
{"p":"k","k":10,"t":0,"v":8.0},{"p":"k","k":10,"t":1,"v":0},{"p":"k","k":10,"t":2,"v":0},{"p":"k","k":10,"t":4,"v":0},{"p":"k","k":10,"t":6,"v":0},{"p":"k","k":10,"t":8,"v":0},{"p":"k","k":10,"t":24,"v":0},
{"p":"l","k":0,"t":0,"v":8.25},{"p":"l","k":0,"t":1,"v":8.3},{"p":"l","k":0,"t":2,"v":8.6},{"p":"l","k":0,"t":4,"v":8.8},{"p":"l","k":0,"t":6,"v":8.9},{"p":"l","k":0,"t":8,"v":9.0},{"p":"l","k":0,"t":24,"v":9.15},
{"p":"l","k":1,"t":0,"v":8.3},{"p":"l","k":1,"t":1,"v":8.4},{"p":"l","k":1,"t":2,"v":8.6},{"p":"l","k":1,"t":4,"v":8.9},{"p":"l","k":1,"t":6,"v":8.8},{"p":"l","k":1,"t":8,"v":8.9},{"p":"l","k":1,"t":24,"v":9.0},
{"p":"l","k":2,"t":0,"v":8.2},{"p":"l","k":2,"t":1,"v":8.3},{"p":"l","k":2,"t":2,"v":8.5},{"p":"l","k":2,"t":4,"v":8.6},{"p":"l","k":2,"t":6,"v":8.7},{"p":"l","k":2,"t":8,"v":8.8},{"p":"l","k":2,"t":24,"v":8.95},
{"p":"l","k":3,"t":0,"v":8.2},{"p":"l","k":3,"t":1,"v":8.3},{"p":"l","k":3,"t":2,"v":8.4},{"p":"l","k":3,"t":4,"v":8.5},{"p":"l","k":3,"t":6,"v":8.5},{"p":"l","k":3,"t":8,"v":8.6},{"p":"l","k":3,"t":24,"v":8.8},
{"p":"l","k":4,"t":0,"v":8.2},{"p":"l","k":4,"t":1,"v":8.3},{"p":"l","k":4,"t":2,"v":8.4},{"p":"l","k":4,"t":4,"v":8.5},{"p":"l","k":4,"t":6,"v":8.6},{"p":"l","k":4,"t":8,"v":8.6},{"p":"l","k":4,"t":24,"v":8.6},
{"p":"l","k":5,"t":0,"v":8.2},{"p":"l","k":5,"t":1,"v":8.3},{"p":"l","k":5,"t":2,"v":8.3},{"p":"l","k":5,"t":4,"v":8.4},{"p":"l","k":5,"t":6,"v":8.5},{"p":"l","k":5,"t":8,"v":8.6},{"p":"l","k":5,"t":24,"v":8.8},
{"p":"l","k":6,"t":0,"v":8.2},{"p":"l","k":6,"t":1,"v":8.2},{"p":"l","k":6,"t":2,"v":8.3},{"p":"l","k":6,"t":4,"v":8.4},{"p":"l","k":6,"t":6,"v":8.5},{"p":"l","k":6,"t":8,"v":8.6},{"p":"l","k":6,"t":24,"v":8.8},
{"p":"l","k":7,"t":0,"v":8.2},{"p":"l","k":7,"t":1,"v":8.2},{"p":"l","k":7,"t":2,"v":8.3},{"p":"l","k":7,"t":4,"v":8.2},{"p":"l","k":7,"t":6,"v":8.4},{"p":"l","k":7,"t":8,"v":8.6},{"p":"l","k":7,"t":24,"v":8.7},
{"p":"l","k":8,"t":0,"v":8.2},{"p":"l","k":8,"t":1,"v":8.1},{"p":"l","k":8,"t":2,"v":8.2},{"p":"l","k":8,"t":4,"v":8.0},{"p":"l","k":8,"t":6,"v":8.0},{"p":"l","k":8,"t":8,"v":7.7},{"p":"l","k":8,"t":24,"v":8.4},
{"p":"l","k":9,"t":0,"v":8.2},{"p":"l","k":9,"t":1,"v":8.1},{"p":"l","k":9,"t":2,"v":7.8},{"p":"l","k":9,"t":4,"v":7.3},{"p":"l","k":9,"t":6,"v":6.9},{"p":"l","k":9,"t":8,"v":6.45},{"p":"l","k":9,"t":24,"v":8.3},
{"p":"l","k":10,"t":0,"v":8.2},{"p":"l","k":10,"t":1,"v":8.0},{"p":"l","k":10,"t":2,"v":7.5},{"p":"l","k":10,"t":4,"v":6.8},{"p":"l","k":10,"t":6,"v":5.55},{"p":"l","k":10,"t":8,"v":5.1},{"p":"l","k":10,"t":24,"v":7.2},
{"p":"m","k":0,"t":0,"v":8.3},{"p":"m","k":0,"t":1,"v":8.8},{"p":"m","k":0,"t":2,"v":8.9},{"p":"m","k":0,"t":4,"v":9.0},{"p":"m","k":0,"t":6,"v":9.1},{"p":"m","k":0,"t":8,"v":9.1},{"p":"m","k":0,"t":24,"v":9.1},
{"p":"m","k":1,"t":0,"v":8.3},{"p":"m","k":1,"t":1,"v":8.6},{"p":"m","k":1,"t":2,"v":9.0},{"p":"m","k":1,"t":4,"v":9.0},{"p":"m","k":1,"t":6,"v":9.2},{"p":"m","k":1,"t":8,"v":9.0},{"p":"m","k":1,"t":24,"v":9.0},
{"p":"m","k":2,"t":0,"v":8.2},{"p":"m","k":2,"t":1,"v":8.6},{"p":"m","k":2,"t":2,"v":8.8},{"p":"m","k":2,"t":4,"v":9.0},{"p":"m","k":2,"t":6,"v":9.1},{"p":"m","k":2,"t":8,"v":9.0},{"p":"m","k":2,"t":24,"v":9.1},
{"p":"m","k":3,"t":0,"v":8.1},{"p":"m","k":3,"t":1,"v":8.7},{"p":"m","k":3,"t":2,"v":8.7},{"p":"m","k":3,"t":4,"v":8.9},{"p":"m","k":3,"t":6,"v":9.0},{"p":"m","k":3,"t":8,"v":8.8},{"p":"m","k":3,"t":24,"v":9.0},
{"p":"m","k":4,"t":0,"v":8.1},{"p":"m","k":4,"t":1,"v":8.3},{"p":"m","k":4,"t":2,"v":8.5},{"p":"m","k":4,"t":4,"v":8.4},{"p":"m","k":4,"t":6,"v":8.3},{"p":"m","k":4,"t":8,"v":8.1},{"p":"m","k":4,"t":24,"v":8.8},
{"p":"m","k":5,"t":0,"v":8.0},{"p":"m","k":5,"t":1,"v":8.2},{"p":"m","k":5,"t":2,"v":8.0},{"p":"m","k":5,"t":4,"v":7.6},{"p":"m","k":5,"t":6,"v":7.5},{"p":"m","k":5,"t":8,"v":7.5},{"p":"m","k":5,"t":24,"v":8.6},
{"p":"m","k":6,"t":0,"v":8.0},{"p":"m","k":6,"t":1,"v":7.6},{"p":"m","k":6,"t":2,"v":7.3},{"p":"m","k":6,"t":4,"v":7.2},{"p":"m","k":6,"t":6,"v":7.2},{"p":"m","k":6,"t":8,"v":7.0},{"p":"m","k":6,"t":24,"v":6.8},
{"p":"m","k":7,"t":0,"v":8.0},{"p":"m","k":7,"t":1,"v":7.5},{"p":"m","k":7,"t":2,"v":7.3},{"p":"m","k":7,"t":4,"v":7.3},{"p":"m","k":7,"t":6,"v":7.2},{"p":"m","k":7,"t":8,"v":7.2},{"p":"m","k":7,"t":24,"v":6.7},
{"p":"m","k":8,"t":0,"v":8.0},{"p":"m","k":8,"t":1,"v":7.5},{"p":"m","k":8,"t":2,"v":7.3},{"p":"m","k":8,"t":4,"v":7.2},{"p":"m","k":8,"t":6,"v":7.0},{"p":"m","k":8,"t":8,"v":7.0},{"p":"m","k":8,"t":24,"v":6.4},
{"p":"m","k":9,"t":0,"v":8.0},{"p":"m","k":9,"t":1,"v":7.4},{"p":"m","k":9,"t":2,"v":7.2},{"p":"m","k":9,"t":4,"v":7.1},{"p":"m","k":9,"t":6,"v":6.9},{"p":"m","k":9,"t":8,"v":6.8},{"p":"m","k":9,"t":24,"v":5.8},
{"p":"m","k":10,"t":0,"v":8.0},{"p":"m","k":10,"t":1,"v":7.3},{"p":"m","k":10,"t":2,"v":7.1},{"p":"m","k":10,"t":4,"v":6.9},{"p":"m","k":10,"t":6,"v":6.5},{"p":"m","k":10,"t":8,"v":6.3},{"p":"m","k":10,"t":24,"v":4.1},
{"p":"n","k":0,"t":0,"v":8.1},{"p":"n","k":0,"t":1,"v":8.8},{"p":"n","k":0,"t":2,"v":8.7},{"p":"n","k":0,"t":4,"v":9.0},{"p":"n","k":0,"t":6,"v":9.1},{"p":"n","k":0,"t":8,"v":9.1},{"p":"n","k":0,"t":24,"v":9.1},
{"p":"n","k":1,"t":0,"v":8.2},{"p":"n","k":1,"t":1,"v":8.5},{"p":"n","k":1,"t":2,"v":8.9},{"p":"n","k":1,"t":4,"v":8.9},{"p":"n","k":1,"t":6,"v":8.5},{"p":"n","k":1,"t":8,"v":8.8},{"p":"n","k":1,"t":24,"v":8.6},
{"p":"n","k":2,"t":0,"v":8.1},{"p":"n","k":2,"t":1,"v":8.7},{"p":"n","k":2,"t":2,"v":8.5},{"p":"n","k":2,"t":4,"v":8.9},{"p":"n","k":2,"t":6,"v":8.7},{"p":"n","k":2,"t":8,"v":8.5},{"p":"n","k":2,"t":24,"v":8.6},
{"p":"n","k":3,"t":0,"v":8.0},{"p":"n","k":3,"t":1,"v":7.4},{"p":"n","k":3,"t":2,"v":7.6},{"p":"n","k":3,"t":4,"v":7.7},{"p":"n","k":3,"t":6,"v":7.4},{"p":"n","k":3,"t":8,"v":7.2},{"p":"n","k":3,"t":24,"v":7.6},
{"p":"n","k":4,"t":0,"v":8.0},{"p":"n","k":4,"t":1,"v":7.5},{"p":"n","k":4,"t":2,"v":7.2},{"p":"n","k":4,"t":4,"v":6.3},{"p":"n","k":4,"t":6,"v":5.7},{"p":"n","k":4,"t":8,"v":6.5},{"p":"n","k":4,"t":24,"v":7.5},
{"p":"n","k":5,"t":0,"v":8.0},{"p":"n","k":5,"t":1,"v":7.1},{"p":"n","k":5,"t":2,"v":6.1},{"p":"n","k":5,"t":4,"v":5.9},{"p":"n","k":5,"t":6,"v":5.7},{"p":"n","k":5,"t":8,"v":5.2},{"p":"n","k":5,"t":24,"v":7.5},
{"p":"n","k":6,"t":0,"v":8.0},{"p":"n","k":6,"t":1,"v":6.5},{"p":"n","k":6,"t":2,"v":4.8},{"p":"n","k":6,"t":4,"v":4.8},{"p":"n","k":6,"t":6,"v":5.0},{"p":"n","k":6,"t":8,"v":5.3},{"p":"n","k":6,"t":24,"v":4.6},
{"p":"n","k":7,"t":0,"v":8.0},{"p":"n","k":7,"t":1,"v":6.1},{"p":"n","k":7,"t":2,"v":5.7},{"p":"n","k":7,"t":4,"v":4.5},{"p":"n","k":7,"t":6,"v":4.9},{"p":"n","k":7,"t":8,"v":3.7},{"p":"n","k":7,"t":24,"v":0},
{"p":"n","k":8,"t":0,"v":8.0},{"p":"n","k":8,"t":1,"v":6.3},{"p":"n","k":8,"t":2,"v":5.8},{"p":"n","k":8,"t":4,"v":3.6},{"p":"n","k":8,"t":6,"v":4.3},{"p":"n","k":8,"t":8,"v":0},{"p":"n","k":8,"t":24,"v":0},
{"p":"n","k":9,"t":0,"v":8.0},{"p":"n","k":9,"t":1,"v":6.2},{"p":"n","k":9,"t":2,"v":4.6},{"p":"n","k":9,"t":4,"v":3.9},{"p":"n","k":9,"t":6,"v":0},{"p":"n","k":9,"t":8,"v":0},{"p":"n","k":9,"t":24,"v":0},
{"p":"n","k":10,"t":0,"v":8.0},{"p":"n","k":10,"t":1,"v":6.3},{"p":"n","k":10,"t":2,"v":4.4},{"p":"n","k":10,"t":4,"v":2.5},{"p":"n","k":10,"t":6,"v":0},{"p":"n","k":10,"t":8,"v":0},{"p":"n","k":10,"t":24,"v":0},
{"p":"o","k":0,"t":0,"v":8.3},{"p":"o","k":0,"t":1,"v":8.8},{"p":"o","k":0,"t":2,"v":8.7},{"p":"o","k":0,"t":4,"v":9.0},{"p":"o","k":0,"t":6,"v":9.1},{"p":"o","k":0,"t":8,"v":9.1},{"p":"o","k":0,"t":24,"v":9.1},
{"p":"o","k":1,"t":0,"v":8.2},{"p":"o","k":1,"t":1,"v":8.5},{"p":"o","k":1,"t":2,"v":8.7},{"p":"o","k":1,"t":4,"v":8.9},{"p":"o","k":1,"t":6,"v":9.0},{"p":"o","k":1,"t":8,"v":9.0},{"p":"o","k":1,"t":24,"v":9.2},
{"p":"o","k":2,"t":0,"v":8.3},{"p":"o","k":2,"t":1,"v":8.5},{"p":"o","k":2,"t":2,"v":8.7},{"p":"o","k":2,"t":4,"v":8.8},{"p":"o","k":2,"t":6,"v":8.9},{"p":"o","k":2,"t":8,"v":9.0},{"p":"o","k":2,"t":24,"v":9.1},
{"p":"o","k":3,"t":0,"v":8.3},{"p":"o","k":3,"t":1,"v":8.6},{"p":"o","k":3,"t":2,"v":8.8},{"p":"o","k":3,"t":4,"v":8.9},{"p":"o","k":3,"t":6,"v":9.0},{"p":"o","k":3,"t":8,"v":9.0},{"p":"o","k":3,"t":24,"v":9.2},
{"p":"o","k":4,"t":0,"v":8.3},{"p":"o","k":4,"t":1,"v":8.5},{"p":"o","k":4,"t":2,"v":8.7},{"p":"o","k":4,"t":4,"v":8.9},{"p":"o","k":4,"t":6,"v":9.0},{"p":"o","k":4,"t":8,"v":9.0},{"p":"o","k":4,"t":24,"v":9.2},
{"p":"o","k":5,"t":0,"v":8.3},{"p":"o","k":5,"t":1,"v":8.5},{"p":"o","k":5,"t":2,"v":8.7},{"p":"o","k":5,"t":4,"v":8.8},{"p":"o","k":5,"t":6,"v":9.0},{"p":"o","k":5,"t":8,"v":9.0},{"p":"o","k":5,"t":24,"v":9.1},
{"p":"o","k":6,"t":0,"v":8.3},{"p":"o","k":6,"t":1,"v":8.5},{"p":"o","k":6,"t":2,"v":8.6},{"p":"o","k":6,"t":4,"v":8.8},{"p":"o","k":6,"t":6,"v":8.8},{"p":"o","k":6,"t":8,"v":8.8},{"p":"o","k":6,"t":24,"v":8.85},
{"p":"o","k":7,"t":0,"v":8.0},{"p":"o","k":7,"t":1,"v":7.7},{"p":"o","k":7,"t":2,"v":7.6},{"p":"o","k":7,"t":4,"v":7.5},{"p":"o","k":7,"t":6,"v":6.7},{"p":"o","k":7,"t":8,"v":6.9},{"p":"o","k":7,"t":24,"v":6.3},
{"p":"o","k":8,"t":0,"v":8.0},{"p":"o","k":8,"t":1,"v":7.5},{"p":"o","k":8,"t":2,"v":7.3},{"p":"o","k":8,"t":4,"v":6.9},{"p":"o","k":8,"t":6,"v":6.5},{"p":"o","k":8,"t":8,"v":6.1},{"p":"o","k":8,"t":24,"v":5.7},
{"p":"o","k":9,"t":0,"v":8.0},{"p":"o","k":9,"t":1,"v":7.4},{"p":"o","k":9,"t":2,"v":7.1},{"p":"o","k":9,"t":4,"v":6.7},{"p":"o","k":9,"t":6,"v":5.9},{"p":"o","k":9,"t":8,"v":5.2},{"p":"o","k":9,"t":24,"v":0},
{"p":"o","k":10,"t":0,"v":8.0},{"p":"o","k":10,"t":1,"v":7.3},{"p":"o","k":10,"t":2,"v":6.9},{"p":"o","k":10,"t":4,"v":6.2},{"p":"o","k":10,"t":6,"v":5.2},{"p":"o","k":10,"t":8,"v":4.25},{"p":"o","k":10,"t":24,"v":0},
{"p":"p","k":0,"t":0,"v":8.1},{"p":"p","k":0,"t":1,"v":8.2},{"p":"p","k":0,"t":2,"v":8.6},{"p":"p","k":0,"t":4,"v":8.7},{"p":"p","k":0,"t":6,"v":8.9},{"p":"p","k":0,"t":8,"v":9.0},{"p":"p","k":0,"t":24,"v":9.25},
{"p":"p","k":1,"t":0,"v":8.1},{"p":"p","k":1,"t":1,"v":8.2},{"p":"p","k":1,"t":2,"v":8.5},{"p":"p","k":1,"t":4,"v":8.6},{"p":"p","k":1,"t":6,"v":8.6},{"p":"p","k":1,"t":8,"v":8.8},{"p":"p","k":1,"t":24,"v":8.9},
{"p":"p","k":2,"t":0,"v":8.0},{"p":"p","k":2,"t":1,"v":8.2},{"p":"p","k":2,"t":2,"v":8.4},{"p":"p","k":2,"t":4,"v":8.5},{"p":"p","k":2,"t":6,"v":8.6},{"p":"p","k":2,"t":8,"v":8.7},{"p":"p","k":2,"t":24,"v":8.85},
{"p":"p","k":3,"t":0,"v":8.0},{"p":"p","k":3,"t":1,"v":8.2},{"p":"p","k":3,"t":2,"v":8.3},{"p":"p","k":3,"t":4,"v":8.5},{"p":"p","k":3,"t":6,"v":8.6},{"p":"p","k":3,"t":8,"v":8.7},{"p":"p","k":3,"t":24,"v":8.8},
{"p":"p","k":4,"t":0,"v":8.1},{"p":"p","k":4,"t":1,"v":7.9},{"p":"p","k":4,"t":2,"v":7.86},{"p":"p","k":4,"t":4,"v":8.14},{"p":"p","k":4,"t":6,"v":7.43},{"p":"p","k":4,"t":8,"v":7.51},{"p":"p","k":4,"t":24,"v":7.86},
{"p":"p","k":5,"t":0,"v":8.0},{"p":"p","k":5,"t":1,"v":7.6},{"p":"p","k":5,"t":2,"v":7.6},{"p":"p","k":5,"t":4,"v":7.29},{"p":"p","k":5,"t":6,"v":7.23},{"p":"p","k":5,"t":8,"v":7.43},{"p":"p","k":5,"t":24,"v":7.29},
{"p":"p","k":6,"t":0,"v":8.0},{"p":"p","k":6,"t":1,"v":7.3},{"p":"p","k":6,"t":2,"v":7.2},{"p":"p","k":6,"t":4,"v":6.94},{"p":"p","k":6,"t":6,"v":6.77},{"p":"p","k":6,"t":8,"v":6.83},{"p":"p","k":6,"t":24,"v":6.23},
{"p":"p","k":7,"t":0,"v":8.0},{"p":"p","k":7,"t":1,"v":7.29},{"p":"p","k":7,"t":2,"v":6.43},{"p":"p","k":7,"t":4,"v":5.63},{"p":"p","k":7,"t":6,"v":6.03},{"p":"p","k":7,"t":8,"v":5.86},{"p":"p","k":7,"t":24,"v":5.77},
{"p":"p","k":8,"t":0,"v":8.0},{"p":"p","k":8,"t":1,"v":7.0},{"p":"p","k":8,"t":2,"v":6.29},{"p":"p","k":8,"t":4,"v":5.86},{"p":"p","k":8,"t":6,"v":5.63},{"p":"p","k":8,"t":8,"v":5.51},{"p":"p","k":8,"t":24,"v":5.8},
{"p":"p","k":9,"t":0,"v":8.0},{"p":"p","k":9,"t":1,"v":6.43},{"p":"p","k":9,"t":2,"v":5.94},{"p":"p","k":9,"t":4,"v":5.37},{"p":"p","k":9,"t":6,"v":5.29},{"p":"p","k":9,"t":8,"v":4.71},{"p":"p","k":9,"t":24,"v":3.46},
{"p":"p","k":10,"t":0,"v":8.0},{"p":"p","k":10,"t":1,"v":6.43},{"p":"p","k":10,"t":2,"v":5.94},{"p":"p","k":10,"t":4,"v":5.31},{"p":"p","k":10,"t":6,"v":5.34},{"p":"p","k":10,"t":8,"v":4.71},{"p":"p","k":10,"t":24,"v":3.46},
{"p":"q","k":0,"t":0,"v":8.1},{"p":"q","k":0,"t":1,"v":8.1},{"p":"q","k":0,"t":2,"v":8.6},{"p":"q","k":0,"t":4,"v":8.75},{"p":"q","k":0,"t":6,"v":8.8},{"p":"q","k":0,"t":8,"v":8.85},{"p":"q","k":0,"t":24,"v":9.2},
{"p":"q","k":1,"t":0,"v":8.1},{"p":"q","k":1,"t":1,"v":8.1},{"p":"q","k":1,"t":2,"v":8.5},{"p":"q","k":1,"t":4,"v":8.7},{"p":"q","k":1,"t":6,"v":8.8},{"p":"q","k":1,"t":8,"v":8.9},{"p":"q","k":1,"t":24,"v":8.85},
{"p":"q","k":2,"t":0,"v":8.0},{"p":"q","k":2,"t":1,"v":8.1},{"p":"q","k":2,"t":2,"v":8.4},{"p":"q","k":2,"t":4,"v":8.3},{"p":"q","k":2,"t":6,"v":8.3},{"p":"q","k":2,"t":8,"v":8.14},{"p":"q","k":2,"t":24,"v":8.0},
{"p":"q","k":3,"t":0,"v":8.0},{"p":"q","k":3,"t":1,"v":7.9},{"p":"q","k":3,"t":2,"v":8.0},{"p":"q","k":3,"t":4,"v":7.86},{"p":"q","k":3,"t":6,"v":7.49},{"p":"q","k":3,"t":8,"v":6.94},{"p":"q","k":3,"t":24,"v":5.0},
{"p":"q","k":4,"t":0,"v":8.0},{"p":"q","k":4,"t":1,"v":7.7},{"p":"q","k":4,"t":2,"v":7.86},{"p":"q","k":4,"t":4,"v":6.23},{"p":"q","k":4,"t":6,"v":6.09},{"p":"q","k":4,"t":8,"v":5.8},{"p":"q","k":4,"t":24,"v":4.37},
{"p":"q","k":5,"t":0,"v":8.0},{"p":"q","k":5,"t":1,"v":7.51},{"p":"q","k":5,"t":2,"v":6.51},{"p":"q","k":5,"t":4,"v":6.0},{"p":"q","k":5,"t":6,"v":5.71},{"p":"q","k":5,"t":8,"v":5.14},{"p":"q","k":5,"t":24,"v":2.49},
{"p":"q","k":6,"t":0,"v":8.0},{"p":"q","k":6,"t":1,"v":7.2},{"p":"q","k":6,"t":2,"v":6.06},{"p":"q","k":6,"t":4,"v":5.49},{"p":"q","k":6,"t":6,"v":4.51},{"p":"q","k":6,"t":8,"v":4.09},{"p":"q","k":6,"t":24,"v":0.66},
{"p":"q","k":7,"t":0,"v":8.0},{"p":"q","k":7,"t":1,"v":7.0},{"p":"q","k":7,"t":2,"v":5.71},{"p":"q","k":7,"t":4,"v":4.57},{"p":"q","k":7,"t":6,"v":4.03},{"p":"q","k":7,"t":8,"v":3.51},{"p":"q","k":7,"t":24,"v":0},
{"p":"q","k":8,"t":0,"v":8.0},{"p":"q","k":8,"t":1,"v":6.09},{"p":"q","k":8,"t":2,"v":4.37},{"p":"q","k":8,"t":4,"v":3.29},{"p":"q","k":8,"t":6,"v":0.66},{"p":"q","k":8,"t":8,"v":0},{"p":"q","k":8,"t":24,"v":0},
{"p":"q","k":9,"t":0,"v":8.0},{"p":"q","k":9,"t":1,"v":5.63},{"p":"q","k":9,"t":2,"v":3.66},{"p":"q","k":9,"t":4,"v":0},{"p":"q","k":9,"t":6,"v":0},{"p":"q","k":9,"t":8,"v":0},{"p":"q","k":9,"t":24,"v":0},
{"p":"q","k":10,"t":0,"v":8.0},{"p":"q","k":10,"t":1,"v":5.63},{"p":"q","k":10,"t":2,"v":0},{"p":"q","k":10,"t":4,"v":0},{"p":"q","k":10,"t":6,"v":0},{"p":"q","k":10,"t":8,"v":0},{"p":"q","k":10,"t":24,"v":0},
{"p":"r","k":0,"t":0,"v":8.1},{"p":"r","k":0,"t":1,"v":8.2},{"p":"r","k":0,"t":2,"v":8.5},{"p":"r","k":0,"t":4,"v":8.8},{"p":"r","k":0,"t":6,"v":8.9},{"p":"r","k":0,"t":8,"v":9.0},{"p":"r","k":0,"t":24,"v":9.2},
{"p":"r","k":1,"t":0,"v":8.1},{"p":"r","k":1,"t":1,"v":8.2},{"p":"r","k":1,"t":2,"v":8.6},{"p":"r","k":1,"t":4,"v":9.0},{"p":"r","k":1,"t":6,"v":9.1},{"p":"r","k":1,"t":8,"v":9.1},{"p":"r","k":1,"t":24,"v":9.2},
{"p":"r","k":2,"t":0,"v":8.1},{"p":"r","k":2,"t":1,"v":8.2},{"p":"r","k":2,"t":2,"v":8.7},{"p":"r","k":2,"t":4,"v":8.9},{"p":"r","k":2,"t":6,"v":9.0},{"p":"r","k":2,"t":8,"v":9.0},{"p":"r","k":2,"t":24,"v":9.2},
{"p":"r","k":3,"t":0,"v":8.1},{"p":"r","k":3,"t":1,"v":8.2},{"p":"r","k":3,"t":2,"v":8.6},{"p":"r","k":3,"t":4,"v":8.9},{"p":"r","k":3,"t":6,"v":9.1},{"p":"r","k":3,"t":8,"v":9.1},{"p":"r","k":3,"t":24,"v":9.2},
{"p":"r","k":4,"t":0,"v":8.1},{"p":"r","k":4,"t":1,"v":8.2},{"p":"r","k":4,"t":2,"v":8.4},{"p":"r","k":4,"t":4,"v":8.7},{"p":"r","k":4,"t":6,"v":8.75},{"p":"r","k":4,"t":8,"v":8.8},{"p":"r","k":4,"t":24,"v":9.1},
{"p":"r","k":5,"t":0,"v":8.1},{"p":"r","k":5,"t":1,"v":8.2},{"p":"r","k":5,"t":2,"v":8.3},{"p":"r","k":5,"t":4,"v":8.6},{"p":"r","k":5,"t":6,"v":8.7},{"p":"r","k":5,"t":8,"v":8.8},{"p":"r","k":5,"t":24,"v":9.0},
{"p":"r","k":6,"t":0,"v":8.0},{"p":"r","k":6,"t":1,"v":8.1},{"p":"r","k":6,"t":2,"v":8.2},{"p":"r","k":6,"t":4,"v":8.43},{"p":"r","k":6,"t":6,"v":8.29},{"p":"r","k":6,"t":8,"v":8.29},{"p":"r","k":6,"t":24,"v":8.0},
{"p":"r","k":7,"t":0,"v":8.0},{"p":"r","k":7,"t":1,"v":7.9},{"p":"r","k":7,"t":2,"v":7.9},{"p":"r","k":7,"t":4,"v":7.43},{"p":"r","k":7,"t":6,"v":7.0},{"p":"r","k":7,"t":8,"v":6.37},{"p":"r","k":7,"t":24,"v":6.05},
{"p":"r","k":8,"t":0,"v":8.0},{"p":"r","k":8,"t":1,"v":8.1},{"p":"r","k":8,"t":2,"v":7.29},{"p":"r","k":8,"t":4,"v":6.14},{"p":"r","k":8,"t":6,"v":6.06},{"p":"r","k":8,"t":8,"v":5.71},{"p":"r","k":8,"t":24,"v":5.9},
{"p":"r","k":9,"t":0,"v":8.0},{"p":"r","k":9,"t":1,"v":7.57},{"p":"r","k":9,"t":2,"v":6.94},{"p":"r","k":9,"t":4,"v":5.97},{"p":"r","k":9,"t":6,"v":5.86},{"p":"r","k":9,"t":8,"v":5.63},{"p":"r","k":9,"t":24,"v":4.4},
{"p":"r","k":10,"t":0,"v":8.0},{"p":"r","k":10,"t":1,"v":7.43},{"p":"r","k":10,"t":2,"v":6.77},{"p":"r","k":10,"t":4,"v":5.91},{"p":"r","k":10,"t":6,"v":5.77},{"p":"r","k":10,"t":8,"v":5.43},{"p":"r","k":10,"t":24,"v":1.7}
]},
"data":{"name":"ts"},
"title":{"text":"log₁₀ cfu/mL","orient":"left","anchor":"middle","fontSize":20,"fontWeight":"bold","offset":20,"dx":55},
"spacing":3,
"align":"none",
"hconcat":[
 {"title":{"text":"Amikacin","frame":"group","fontSize":18,"fontWeight":"bold","offset":6},
  "bounds":"flush","center":true,"spacing":48.3,"align":"each",
  "vconcat":[
   {"width":167,"height":116.5,"title":{"text":"(a)","anchor":"start","frame":"group","dx":-23,"offset":10,"fontSize":18,"fontWeight":300},"transform":[{"filter":"datum.p=='a'"}],
    "encoding":{"x":{"field":"t","type":"quantitative","scale":{"domain":[0,24]},"axis":{"values":[0,4,8,12,16,20,24],"title":null}},"y":{"field":"v","type":"quantitative","scale":{"domain":[0,10]},"axis":{"values":[0,2,4,6,8,10],"title":"NU-CRE193"}}},
    "layer":[
     {"mark":{"type":"line","strokeWidth":1},"encoding":{"color":{"field":"k","type":"nominal","scale":{"domain":[0,1,2,3,4,5,6,7,8,9,10],"range":["#000000","#000000","#8B0000","#FF0000","#FF8C1A","#FFFF00","#008000","#00FFFF","#0000FF","#FF00FF","#800080"]}},"strokeDash":{"field":"k","type":"nominal","scale":{"domain":[0,1,2,3,4,5,6,7,8,9,10],"range":[[1,0],[5,3],[5,3],[5,3],[5,3],[5,3],[1,0],[5,3],[5,3],[5,3],[5,3]]}}}},
     {"mark":{"type":"point","filled":true,"size":27,"opacity":1,"stroke":"#333333","strokeWidth":0.5},"encoding":{"fill":{"field":"k","type":"nominal","scale":{"domain":[0,1,2,3,4,5,6,7,8,9,10],"range":["#000000","#FFFFFF","#8B0000","#FF0000","#FF8C1A","#FFFF00","#008000","#00FFFF","#0000FF","#FF00FF","#800080"]}},"shape":{"field":"k","type":"nominal","scale":{"domain":[0,1,2,3,4,5,6,7,8,9,10],"range":["circle","square","triangle-up","diamond","triangle-down","circle","square","triangle-up","diamond","triangle-down","square"]}}}}
    ]},
   {"width":167,"height":116.5,"title":{"text":"(d)","anchor":"start","frame":"group","dx":-23,"offset":10,"fontSize":18,"fontWeight":300},"transform":[{"filter":"datum.p=='d'"}],
    "encoding":{"x":{"field":"t","type":"quantitative","scale":{"domain":[0,24]},"axis":{"values":[0,4,8,12,16,20,24],"title":null}},"y":{"field":"v","type":"quantitative","scale":{"domain":[0,10]},"axis":{"values":[0,2,4,6,8,10],"title":"NU-CRE195"}}},
    "layer":[
     {"mark":{"type":"line","strokeWidth":1},"encoding":{"color":{"field":"k","type":"nominal","scale":{"domain":[0,1,2,3,4,5,6,7,8,9,10],"range":["#000000","#000000","#8B0000","#FF0000","#FF8C1A","#FFFF00","#008000","#00FFFF","#0000FF","#FF00FF","#800080"]}},"strokeDash":{"field":"k","type":"nominal","scale":{"domain":[0,1,2,3,4,5,6,7,8,9,10],"range":[[1,0],[5,3],[5,3],[5,3],[5,3],[5,3],[1,0],[5,3],[5,3],[5,3],[5,3]]}}}},
     {"mark":{"type":"point","filled":true,"size":27,"opacity":1,"stroke":"#333333","strokeWidth":0.5},"encoding":{"fill":{"field":"k","type":"nominal","scale":{"domain":[0,1,2,3,4,5,6,7,8,9,10],"range":["#000000","#FFFFFF","#8B0000","#FF0000","#FF8C1A","#FFFF00","#008000","#00FFFF","#0000FF","#FF00FF","#800080"]}},"shape":{"field":"k","type":"nominal","scale":{"domain":[0,1,2,3,4,5,6,7,8,9,10],"range":["circle","square","triangle-up","diamond","triangle-down","circle","square","triangle-up","diamond","triangle-down","square"]}}}}
    ]},
   {"width":167,"height":116.5,"title":{"text":"(g)","anchor":"start","frame":"group","dx":-23,"offset":10,"fontSize":18,"fontWeight":300},"transform":[{"filter":"datum.p=='g'"}],
    "encoding":{"x":{"field":"t","type":"quantitative","scale":{"domain":[0,24]},"axis":{"values":[0,4,8,12,16,20,24],"title":null}},"y":{"field":"v","type":"quantitative","scale":{"domain":[0,10]},"axis":{"values":[0,2,4,6,8,10],"title":"NU-CRE236"}}},
    "layer":[
     {"mark":{"type":"line","strokeWidth":1},"encoding":{"color":{"field":"k","type":"nominal","scale":{"domain":[0,1,2,3,4,5,6,7,8,9,10],"range":["#000000","#000000","#8B0000","#FF0000","#FF8C1A","#FFFF00","#008000","#00FFFF","#0000FF","#FF00FF","#800080"]}},"strokeDash":{"field":"k","type":"nominal","scale":{"domain":[0,1,2,3,4,5,6,7,8,9,10],"range":[[1,0],[5,3],[5,3],[5,3],[5,3],[5,3],[1,0],[5,3],[5,3],[5,3],[5,3]]}}}},
     {"mark":{"type":"point","filled":true,"size":27,"opacity":1,"stroke":"#333333","strokeWidth":0.5},"encoding":{"fill":{"field":"k","type":"nominal","scale":{"domain":[0,1,2,3,4,5,6,7,8,9,10],"range":["#000000","#FFFFFF","#8B0000","#FF0000","#FF8C1A","#FFFF00","#008000","#00FFFF","#0000FF","#FF00FF","#800080"]}},"shape":{"field":"k","type":"nominal","scale":{"domain":[0,1,2,3,4,5,6,7,8,9,10],"range":["circle","square","triangle-up","diamond","triangle-down","circle","square","triangle-up","diamond","triangle-down","square"]}}}}
    ]},
   {"width":167,"height":116.5,"title":{"text":"(j)","anchor":"start","frame":"group","dx":-23,"offset":10,"fontSize":18,"fontWeight":300},"transform":[{"filter":"datum.p=='j'"}],
    "encoding":{"x":{"field":"t","type":"quantitative","scale":{"domain":[0,24]},"axis":{"values":[0,4,8,12,16,20,24],"title":null}},"y":{"field":"v","type":"quantitative","scale":{"domain":[0,10]},"axis":{"values":[0,2,4,6,8,10],"title":"NU-CRE55"}}},
    "layer":[
     {"mark":{"type":"line","strokeWidth":1},"encoding":{"color":{"field":"k","type":"nominal","scale":{"domain":[0,1,2,3,4,5,6,7,8,9,10],"range":["#000000","#000000","#8B0000","#FF0000","#FF8C1A","#FFFF00","#008000","#00FFFF","#0000FF","#FF00FF","#800080"]}},"strokeDash":{"field":"k","type":"nominal","scale":{"domain":[0,1,2,3,4,5,6,7,8,9,10],"range":[[1,0],[5,3],[5,3],[5,3],[5,3],[5,3],[1,0],[5,3],[5,3],[5,3],[5,3]]}}}},
     {"mark":{"type":"point","filled":true,"size":27,"opacity":1,"stroke":"#333333","strokeWidth":0.5},"encoding":{"fill":{"field":"k","type":"nominal","scale":{"domain":[0,1,2,3,4,5,6,7,8,9,10],"range":["#000000","#FFFFFF","#8B0000","#FF0000","#FF8C1A","#FFFF00","#008000","#00FFFF","#0000FF","#FF00FF","#800080"]}},"shape":{"field":"k","type":"nominal","scale":{"domain":[0,1,2,3,4,5,6,7,8,9,10],"range":["circle","square","triangle-up","diamond","triangle-down","circle","square","triangle-up","diamond","triangle-down","square"]}}}}
    ]},
   {"width":167,"height":116.5,"title":{"text":"(m)","anchor":"start","frame":"group","dx":-23,"offset":10,"fontSize":18,"fontWeight":300},"transform":[{"filter":"datum.p=='m'"}],
    "encoding":{"x":{"field":"t","type":"quantitative","scale":{"domain":[0,24]},"axis":{"values":[0,4,8,12,16,20,24],"title":null}},"y":{"field":"v","type":"quantitative","scale":{"domain":[0,10]},"axis":{"values":[0,2,4,6,8,10],"title":"NU-CRE85"}}},
    "layer":[
     {"mark":{"type":"line","strokeWidth":1},"encoding":{"color":{"field":"k","type":"nominal","scale":{"domain":[0,1,2,3,4,5,6,7,8,9,10],"range":["#000000","#000000","#8B0000","#FF0000","#FF8C1A","#FFFF00","#008000","#00FFFF","#0000FF","#FF00FF","#800080"]}},"strokeDash":{"field":"k","type":"nominal","scale":{"domain":[0,1,2,3,4,5,6,7,8,9,10],"range":[[1,0],[5,3],[5,3],[5,3],[5,3],[5,3],[1,0],[5,3],[5,3],[5,3],[5,3]]}}}},
     {"mark":{"type":"point","filled":true,"size":27,"opacity":1,"stroke":"#333333","strokeWidth":0.5},"encoding":{"fill":{"field":"k","type":"nominal","scale":{"domain":[0,1,2,3,4,5,6,7,8,9,10],"range":["#000000","#FFFFFF","#8B0000","#FF0000","#FF8C1A","#FFFF00","#008000","#00FFFF","#0000FF","#FF00FF","#800080"]}},"shape":{"field":"k","type":"nominal","scale":{"domain":[0,1,2,3,4,5,6,7,8,9,10],"range":["circle","square","triangle-up","diamond","triangle-down","circle","square","triangle-up","diamond","triangle-down","square"]}}}}
    ]},
   {"width":167,"height":116.5,"title":{"text":"(p)","anchor":"start","frame":"group","dx":-23,"offset":10,"fontSize":18,"fontWeight":300},"transform":[{"filter":"datum.p=='p'"}],
    "encoding":{"x":{"field":"t","type":"quantitative","scale":{"domain":[0,24]},"axis":{"values":[0,4,8,12,16,20,24],"title":null}},"y":{"field":"v","type":"quantitative","scale":{"domain":[0,10]},"axis":{"values":[0,2,4,6,8,10],"title":"NU-CRE213"}}},
    "layer":[
     {"mark":{"type":"line","strokeWidth":1},"encoding":{"color":{"field":"k","type":"nominal","scale":{"domain":[0,1,2,3,4,5,6,7,8,9,10],"range":["#000000","#000000","#8B0000","#FF0000","#FF8C1A","#FFFF00","#008000","#00FFFF","#0000FF","#FF00FF","#800080"]}},"strokeDash":{"field":"k","type":"nominal","scale":{"domain":[0,1,2,3,4,5,6,7,8,9,10],"range":[[1,0],[5,3],[5,3],[5,3],[5,3],[5,3],[1,0],[5,3],[5,3],[5,3],[5,3]]}}}},
     {"mark":{"type":"point","filled":true,"size":27,"opacity":1,"stroke":"#333333","strokeWidth":0.5},"encoding":{"fill":{"field":"k","type":"nominal","scale":{"domain":[0,1,2,3,4,5,6,7,8,9,10],"range":["#000000","#FFFFFF","#8B0000","#FF0000","#FF8C1A","#FFFF00","#008000","#00FFFF","#0000FF","#FF00FF","#800080"]}},"shape":{"field":"k","type":"nominal","scale":{"domain":[0,1,2,3,4,5,6,7,8,9,10],"range":["circle","square","triangle-up","diamond","triangle-down","circle","square","triangle-up","diamond","triangle-down","square"]}}}}
    ]},
   {"width":120,"height":134,"view":{"stroke":"#8c8c8c","strokeWidth":1.5},"data":{"name":"lgA"},
    "encoding":{"y":{"field":"k","type":"ordinal","scale":{"type":"point","domain":[0,1,2,3,4,5,6,7,8,9,10],"padding":0.877},"axis":null}},
    "layer":[
     {"mark":{"type":"rule","strokeWidth":1.6},"encoding":{"x":{"datum":4,"type":"quantitative","scale":{"domain":[0,120]},"axis":null},"x2":{"datum":38},"color":{"field":"k","type":"nominal","scale":{"domain":[0,1,2,3,4,5,6,7,8,9,10],"range":["#000000","#000000","#8B0000","#FF0000","#FF8C1A","#FFFF00","#008000","#00FFFF","#0000FF","#FF00FF","#800080"]}},"strokeDash":{"field":"k","type":"nominal","scale":{"domain":[0,1,2,3,4,5,6,7,8,9,10],"range":[[1,0],[5,3],[5,3],[5,3],[5,3],[5,3],[1,0],[5,3],[5,3],[5,3],[5,3]]}}}},
     {"mark":{"type":"point","filled":true,"size":60,"opacity":1,"stroke":"#333333","strokeWidth":0.7},"encoding":{"x":{"datum":21,"type":"quantitative"},"fill":{"field":"k","type":"nominal","scale":{"domain":[0,1,2,3,4,5,6,7,8,9,10],"range":["#000000","#FFFFFF","#8B0000","#FF0000","#FF8C1A","#FFFF00","#008000","#00FFFF","#0000FF","#FF00FF","#800080"]}},"shape":{"field":"k","type":"nominal","scale":{"domain":[0,1,2,3,4,5,6,7,8,9,10],"range":["circle","square","triangle-up","diamond","triangle-down","circle","square","triangle-up","diamond","triangle-down","square"]}}}},
     {"transform":[{"filter":"datum.k==0"}],"mark":{"type":"text","align":"left","baseline":"middle","font":"Liberation Sans","fontSize":9.5,"fontWeight":"bold","color":"#222"},"encoding":{"x":{"datum":47,"type":"quantitative"},"text":{"field":"label"}}},
     {"transform":[{"filter":"datum.k>0"}],"mark":{"type":"text","align":"right","baseline":"middle","font":"Liberation Sans","fontSize":9.5,"fontWeight":"bold","color":"#222"},"encoding":{"x":{"datum":87,"type":"quantitative"},"text":{"field":"label"}}}
    ]}
  ]},
 {"title":{"text":"Gentamicin","frame":"group","fontSize":18,"fontWeight":"bold","offset":6},
  "bounds":"flush","center":true,"spacing":48.3,"align":"each",
  "vconcat":[
   {"width":167,"height":116.5,"title":{"text":"(b)","anchor":"start","frame":"group","dx":-18,"offset":10,"fontSize":18,"fontWeight":300},"transform":[{"filter":"datum.p=='b'"}],
    "encoding":{"x":{"field":"t","type":"quantitative","scale":{"domain":[0,24]},"axis":{"values":[0,4,8,12,16,20,24],"title":null}},"y":{"field":"v","type":"quantitative","scale":{"domain":[0,10]},"axis":{"values":[0,2,4,6,8,10],"title":null}}},
    "layer":[
     {"mark":{"type":"line","strokeWidth":1},"encoding":{"color":{"field":"k","type":"nominal","scale":{"domain":[0,1,2,3,4,5,6,7,8,9,10],"range":["#000000","#000000","#8B0000","#FF0000","#FF8C1A","#FFFF00","#008000","#00FFFF","#0000FF","#FF00FF","#800080"]}},"strokeDash":{"field":"k","type":"nominal","scale":{"domain":[0,1,2,3,4,5,6,7,8,9,10],"range":[[1,0],[5,3],[5,3],[5,3],[5,3],[5,3],[1,0],[5,3],[5,3],[5,3],[5,3]]}}}},
     {"mark":{"type":"point","filled":true,"size":27,"opacity":1,"stroke":"#333333","strokeWidth":0.5},"encoding":{"fill":{"field":"k","type":"nominal","scale":{"domain":[0,1,2,3,4,5,6,7,8,9,10],"range":["#000000","#FFFFFF","#8B0000","#FF0000","#FF8C1A","#FFFF00","#008000","#00FFFF","#0000FF","#FF00FF","#800080"]}},"shape":{"field":"k","type":"nominal","scale":{"domain":[0,1,2,3,4,5,6,7,8,9,10],"range":["circle","square","triangle-up","diamond","triangle-down","circle","square","triangle-up","diamond","triangle-down","square"]}}}}
    ]},
   {"width":167,"height":116.5,"title":{"text":"(e)","anchor":"start","frame":"group","dx":-18,"offset":10,"fontSize":18,"fontWeight":300},"transform":[{"filter":"datum.p=='e'"}],
    "encoding":{"x":{"field":"t","type":"quantitative","scale":{"domain":[0,24]},"axis":{"values":[0,4,8,12,16,20,24],"title":null}},"y":{"field":"v","type":"quantitative","scale":{"domain":[0,10]},"axis":{"values":[0,2,4,6,8,10],"title":null}}},
    "layer":[
     {"mark":{"type":"line","strokeWidth":1},"encoding":{"color":{"field":"k","type":"nominal","scale":{"domain":[0,1,2,3,4,5,6,7,8,9,10],"range":["#000000","#000000","#8B0000","#FF0000","#FF8C1A","#FFFF00","#008000","#00FFFF","#0000FF","#FF00FF","#800080"]}},"strokeDash":{"field":"k","type":"nominal","scale":{"domain":[0,1,2,3,4,5,6,7,8,9,10],"range":[[1,0],[5,3],[5,3],[5,3],[5,3],[5,3],[1,0],[5,3],[5,3],[5,3],[5,3]]}}}},
     {"mark":{"type":"point","filled":true,"size":27,"opacity":1,"stroke":"#333333","strokeWidth":0.5},"encoding":{"fill":{"field":"k","type":"nominal","scale":{"domain":[0,1,2,3,4,5,6,7,8,9,10],"range":["#000000","#FFFFFF","#8B0000","#FF0000","#FF8C1A","#FFFF00","#008000","#00FFFF","#0000FF","#FF00FF","#800080"]}},"shape":{"field":"k","type":"nominal","scale":{"domain":[0,1,2,3,4,5,6,7,8,9,10],"range":["circle","square","triangle-up","diamond","triangle-down","circle","square","triangle-up","diamond","triangle-down","square"]}}}}
    ]},
   {"width":167,"height":116.5,"title":{"text":"(h)","anchor":"start","frame":"group","dx":-18,"offset":10,"fontSize":18,"fontWeight":300},"transform":[{"filter":"datum.p=='h'"}],
    "encoding":{"x":{"field":"t","type":"quantitative","scale":{"domain":[0,24]},"axis":{"values":[0,4,8,12,16,20,24],"title":null}},"y":{"field":"v","type":"quantitative","scale":{"domain":[0,10]},"axis":{"values":[0,2,4,6,8,10],"title":null}}},
    "layer":[
     {"mark":{"type":"line","strokeWidth":1},"encoding":{"color":{"field":"k","type":"nominal","scale":{"domain":[0,1,2,3,4,5,6,7,8,9,10],"range":["#000000","#000000","#8B0000","#FF0000","#FF8C1A","#FFFF00","#008000","#00FFFF","#0000FF","#FF00FF","#800080"]}},"strokeDash":{"field":"k","type":"nominal","scale":{"domain":[0,1,2,3,4,5,6,7,8,9,10],"range":[[1,0],[5,3],[5,3],[5,3],[5,3],[5,3],[1,0],[5,3],[5,3],[5,3],[5,3]]}}}},
     {"mark":{"type":"point","filled":true,"size":27,"opacity":1,"stroke":"#333333","strokeWidth":0.5},"encoding":{"fill":{"field":"k","type":"nominal","scale":{"domain":[0,1,2,3,4,5,6,7,8,9,10],"range":["#000000","#FFFFFF","#8B0000","#FF0000","#FF8C1A","#FFFF00","#008000","#00FFFF","#0000FF","#FF00FF","#800080"]}},"shape":{"field":"k","type":"nominal","scale":{"domain":[0,1,2,3,4,5,6,7,8,9,10],"range":["circle","square","triangle-up","diamond","triangle-down","circle","square","triangle-up","diamond","triangle-down","square"]}}}}
    ]},
   {"width":167,"height":116.5,"title":{"text":"(k)","anchor":"start","frame":"group","dx":-18,"offset":10,"fontSize":18,"fontWeight":300},"transform":[{"filter":"datum.p=='k'"}],
    "encoding":{"x":{"field":"t","type":"quantitative","scale":{"domain":[0,24]},"axis":{"values":[0,4,8,12,16,20,24],"title":null}},"y":{"field":"v","type":"quantitative","scale":{"domain":[0,10]},"axis":{"values":[0,2,4,6,8,10],"title":null}}},
    "layer":[
     {"mark":{"type":"line","strokeWidth":1},"encoding":{"color":{"field":"k","type":"nominal","scale":{"domain":[0,1,2,3,4,5,6,7,8,9,10],"range":["#000000","#000000","#8B0000","#FF0000","#FF8C1A","#FFFF00","#008000","#00FFFF","#0000FF","#FF00FF","#800080"]}},"strokeDash":{"field":"k","type":"nominal","scale":{"domain":[0,1,2,3,4,5,6,7,8,9,10],"range":[[1,0],[5,3],[5,3],[5,3],[5,3],[5,3],[1,0],[5,3],[5,3],[5,3],[5,3]]}}}},
     {"mark":{"type":"point","filled":true,"size":27,"opacity":1,"stroke":"#333333","strokeWidth":0.5},"encoding":{"fill":{"field":"k","type":"nominal","scale":{"domain":[0,1,2,3,4,5,6,7,8,9,10],"range":["#000000","#FFFFFF","#8B0000","#FF0000","#FF8C1A","#FFFF00","#008000","#00FFFF","#0000FF","#FF00FF","#800080"]}},"shape":{"field":"k","type":"nominal","scale":{"domain":[0,1,2,3,4,5,6,7,8,9,10],"range":["circle","square","triangle-up","diamond","triangle-down","circle","square","triangle-up","diamond","triangle-down","square"]}}}}
    ]},
   {"width":167,"height":116.5,"title":{"text":"(n)","anchor":"start","frame":"group","dx":-18,"offset":10,"fontSize":18,"fontWeight":300},"transform":[{"filter":"datum.p=='n'"}],
    "encoding":{"x":{"field":"t","type":"quantitative","scale":{"domain":[0,24]},"axis":{"values":[0,4,8,12,16,20,24],"title":null}},"y":{"field":"v","type":"quantitative","scale":{"domain":[0,10]},"axis":{"values":[0,2,4,6,8,10],"title":null}}},
    "layer":[
     {"mark":{"type":"line","strokeWidth":1},"encoding":{"color":{"field":"k","type":"nominal","scale":{"domain":[0,1,2,3,4,5,6,7,8,9,10],"range":["#000000","#000000","#8B0000","#FF0000","#FF8C1A","#FFFF00","#008000","#00FFFF","#0000FF","#FF00FF","#800080"]}},"strokeDash":{"field":"k","type":"nominal","scale":{"domain":[0,1,2,3,4,5,6,7,8,9,10],"range":[[1,0],[5,3],[5,3],[5,3],[5,3],[5,3],[1,0],[5,3],[5,3],[5,3],[5,3]]}}}},
     {"mark":{"type":"point","filled":true,"size":27,"opacity":1,"stroke":"#333333","strokeWidth":0.5},"encoding":{"fill":{"field":"k","type":"nominal","scale":{"domain":[0,1,2,3,4,5,6,7,8,9,10],"range":["#000000","#FFFFFF","#8B0000","#FF0000","#FF8C1A","#FFFF00","#008000","#00FFFF","#0000FF","#FF00FF","#800080"]}},"shape":{"field":"k","type":"nominal","scale":{"domain":[0,1,2,3,4,5,6,7,8,9,10],"range":["circle","square","triangle-up","diamond","triangle-down","circle","square","triangle-up","diamond","triangle-down","square"]}}}}
    ]},
   {"width":167,"height":116.5,"title":{"text":"(q)","anchor":"start","frame":"group","dx":-18,"offset":10,"fontSize":18,"fontWeight":300},"transform":[{"filter":"datum.p=='q'"}],
    "encoding":{"x":{"field":"t","type":"quantitative","scale":{"domain":[0,24]},"axis":{"values":[0,4,8,12,16,20,24],"title":"Time (hours)"}},"y":{"field":"v","type":"quantitative","scale":{"domain":[0,10]},"axis":{"values":[0,2,4,6,8,10],"title":null}}},
    "layer":[
     {"mark":{"type":"line","strokeWidth":1},"encoding":{"color":{"field":"k","type":"nominal","scale":{"domain":[0,1,2,3,4,5,6,7,8,9,10],"range":["#000000","#000000","#8B0000","#FF0000","#FF8C1A","#FFFF00","#008000","#00FFFF","#0000FF","#FF00FF","#800080"]}},"strokeDash":{"field":"k","type":"nominal","scale":{"domain":[0,1,2,3,4,5,6,7,8,9,10],"range":[[1,0],[5,3],[5,3],[5,3],[5,3],[5,3],[1,0],[5,3],[5,3],[5,3],[5,3]]}}}},
     {"mark":{"type":"point","filled":true,"size":27,"opacity":1,"stroke":"#333333","strokeWidth":0.5},"encoding":{"fill":{"field":"k","type":"nominal","scale":{"domain":[0,1,2,3,4,5,6,7,8,9,10],"range":["#000000","#FFFFFF","#8B0000","#FF0000","#FF8C1A","#FFFF00","#008000","#00FFFF","#0000FF","#FF00FF","#800080"]}},"shape":{"field":"k","type":"nominal","scale":{"domain":[0,1,2,3,4,5,6,7,8,9,10],"range":["circle","square","triangle-up","diamond","triangle-down","circle","square","triangle-up","diamond","triangle-down","square"]}}}}
    ]},
   {"width":120,"height":134,"view":{"stroke":"#8c8c8c","strokeWidth":1.5},"data":{"name":"lgG"},
    "encoding":{"y":{"field":"k","type":"ordinal","scale":{"type":"point","domain":[0,1,2,3,4,5,6,7,8,9,10],"padding":0.877},"axis":null}},
    "layer":[
     {"mark":{"type":"rule","strokeWidth":1.6},"encoding":{"x":{"datum":4,"type":"quantitative","scale":{"domain":[0,120]},"axis":null},"x2":{"datum":38},"color":{"field":"k","type":"nominal","scale":{"domain":[0,1,2,3,4,5,6,7,8,9,10],"range":["#000000","#000000","#8B0000","#FF0000","#FF8C1A","#FFFF00","#008000","#00FFFF","#0000FF","#FF00FF","#800080"]}},"strokeDash":{"field":"k","type":"nominal","scale":{"domain":[0,1,2,3,4,5,6,7,8,9,10],"range":[[1,0],[5,3],[5,3],[5,3],[5,3],[5,3],[1,0],[5,3],[5,3],[5,3],[5,3]]}}}},
     {"mark":{"type":"point","filled":true,"size":60,"opacity":1,"stroke":"#333333","strokeWidth":0.7},"encoding":{"x":{"datum":21,"type":"quantitative"},"fill":{"field":"k","type":"nominal","scale":{"domain":[0,1,2,3,4,5,6,7,8,9,10],"range":["#000000","#FFFFFF","#8B0000","#FF0000","#FF8C1A","#FFFF00","#008000","#00FFFF","#0000FF","#FF00FF","#800080"]}},"shape":{"field":"k","type":"nominal","scale":{"domain":[0,1,2,3,4,5,6,7,8,9,10],"range":["circle","square","triangle-up","diamond","triangle-down","circle","square","triangle-up","diamond","triangle-down","square"]}}}},
     {"transform":[{"filter":"datum.k==0"}],"mark":{"type":"text","align":"left","baseline":"middle","font":"Liberation Sans","fontSize":9.5,"fontWeight":"bold","color":"#222"},"encoding":{"x":{"datum":47,"type":"quantitative"},"text":{"field":"label"}}},
     {"transform":[{"filter":"datum.k>0"}],"mark":{"type":"text","align":"right","baseline":"middle","font":"Liberation Sans","fontSize":9.5,"fontWeight":"bold","color":"#222"},"encoding":{"x":{"datum":91,"type":"quantitative"},"text":{"field":"label"}}}
    ]}
  ]},
 {"title":{"text":"Tobramycin","frame":"group","fontSize":18,"fontWeight":"bold","offset":6},
  "bounds":"flush","center":true,"spacing":48.3,"align":"each",
  "vconcat":[
   {"width":167,"height":116.5,"title":{"text":"(c)","anchor":"start","frame":"group","dx":-18,"offset":10,"fontSize":18,"fontWeight":300},"transform":[{"filter":"datum.p=='c'"}],
    "encoding":{"x":{"field":"t","type":"quantitative","scale":{"domain":[0,24]},"axis":{"values":[0,4,8,12,16,20,24],"title":null}},"y":{"field":"v","type":"quantitative","scale":{"domain":[0,10]},"axis":{"values":[0,2,4,6,8,10],"title":null}}},
    "resolve":{"axis":{"y":"independent"}},
    "layer":[
     {"mark":{"type":"line","strokeWidth":1},"encoding":{"color":{"field":"k","type":"nominal","scale":{"domain":[0,1,2,3,4,5,6,7,8,9,10],"range":["#000000","#000000","#8B0000","#FF0000","#FF8C1A","#FFFF00","#008000","#00FFFF","#0000FF","#FF00FF","#800080"]}},"strokeDash":{"field":"k","type":"nominal","scale":{"domain":[0,1,2,3,4,5,6,7,8,9,10],"range":[[1,0],[5,3],[5,3],[5,3],[5,3],[5,3],[1,0],[5,3],[5,3],[5,3],[5,3]]}}}},
     {"mark":{"type":"point","filled":true,"size":27,"opacity":1,"stroke":"#333333","strokeWidth":0.5},"encoding":{"y":{"field":"v","type":"quantitative","scale":{"domain":[0,10]},"axis":{"orient":"right","title":"Without aac(6’)-Ib","labels":false,"ticks":false,"domain":false,"titleColor":"#0000FF","titleFontSize":15,"titleAngle":90,"titlePadding":28}},"fill":{"field":"k","type":"nominal","scale":{"domain":[0,1,2,3,4,5,6,7,8,9,10],"range":["#000000","#FFFFFF","#8B0000","#FF0000","#FF8C1A","#FFFF00","#008000","#00FFFF","#0000FF","#FF00FF","#800080"]}},"shape":{"field":"k","type":"nominal","scale":{"domain":[0,1,2,3,4,5,6,7,8,9,10],"range":["circle","square","triangle-up","diamond","triangle-down","circle","square","triangle-up","diamond","triangle-down","square"]}}}}
    ]},
   {"width":167,"height":116.5,"title":{"text":"(f)","anchor":"start","frame":"group","dx":-18,"offset":10,"fontSize":18,"fontWeight":300},"transform":[{"filter":"datum.p=='f'"}],
    "encoding":{"x":{"field":"t","type":"quantitative","scale":{"domain":[0,24]},"axis":{"values":[0,4,8,12,16,20,24],"title":null}},"y":{"field":"v","type":"quantitative","scale":{"domain":[0,10]},"axis":{"values":[0,2,4,6,8,10],"title":null}}},
    "resolve":{"axis":{"y":"independent"}},
    "layer":[
     {"mark":{"type":"line","strokeWidth":1},"encoding":{"color":{"field":"k","type":"nominal","scale":{"domain":[0,1,2,3,4,5,6,7,8,9,10],"range":["#000000","#000000","#8B0000","#FF0000","#FF8C1A","#FFFF00","#008000","#00FFFF","#0000FF","#FF00FF","#800080"]}},"strokeDash":{"field":"k","type":"nominal","scale":{"domain":[0,1,2,3,4,5,6,7,8,9,10],"range":[[1,0],[5,3],[5,3],[5,3],[5,3],[5,3],[1,0],[5,3],[5,3],[5,3],[5,3]]}}}},
     {"mark":{"type":"point","filled":true,"size":27,"opacity":1,"stroke":"#333333","strokeWidth":0.5},"encoding":{"y":{"field":"v","type":"quantitative","scale":{"domain":[0,10]},"axis":{"orient":"right","title":"Without aac(6’)-Ib","labels":false,"ticks":false,"domain":false,"titleColor":"#0000FF","titleFontSize":15,"titleAngle":90,"titlePadding":28}},"fill":{"field":"k","type":"nominal","scale":{"domain":[0,1,2,3,4,5,6,7,8,9,10],"range":["#000000","#FFFFFF","#8B0000","#FF0000","#FF8C1A","#FFFF00","#008000","#00FFFF","#0000FF","#FF00FF","#800080"]}},"shape":{"field":"k","type":"nominal","scale":{"domain":[0,1,2,3,4,5,6,7,8,9,10],"range":["circle","square","triangle-up","diamond","triangle-down","circle","square","triangle-up","diamond","triangle-down","square"]}}}}
    ]},
   {"width":167,"height":116.5,"title":{"text":"(i)","anchor":"start","frame":"group","dx":-18,"offset":10,"fontSize":18,"fontWeight":300},"transform":[{"filter":"datum.p=='i'"}],
    "encoding":{"x":{"field":"t","type":"quantitative","scale":{"domain":[0,24]},"axis":{"values":[0,4,8,12,16,20,24],"title":null}},"y":{"field":"v","type":"quantitative","scale":{"domain":[0,10]},"axis":{"values":[0,2,4,6,8,10],"title":null}}},
    "resolve":{"axis":{"y":"independent"}},
    "layer":[
     {"mark":{"type":"line","strokeWidth":1},"encoding":{"color":{"field":"k","type":"nominal","scale":{"domain":[0,1,2,3,4,5,6,7,8,9,10],"range":["#000000","#000000","#8B0000","#FF0000","#FF8C1A","#FFFF00","#008000","#00FFFF","#0000FF","#FF00FF","#800080"]}},"strokeDash":{"field":"k","type":"nominal","scale":{"domain":[0,1,2,3,4,5,6,7,8,9,10],"range":[[1,0],[5,3],[5,3],[5,3],[5,3],[5,3],[1,0],[5,3],[5,3],[5,3],[5,3]]}}}},
     {"mark":{"type":"point","filled":true,"size":27,"opacity":1,"stroke":"#333333","strokeWidth":0.5},"encoding":{"y":{"field":"v","type":"quantitative","scale":{"domain":[0,10]},"axis":{"orient":"right","title":"Without aac(6’)-Ib","labels":false,"ticks":false,"domain":false,"titleColor":"#0000FF","titleFontSize":15,"titleAngle":90,"titlePadding":28}},"fill":{"field":"k","type":"nominal","scale":{"domain":[0,1,2,3,4,5,6,7,8,9,10],"range":["#000000","#FFFFFF","#8B0000","#FF0000","#FF8C1A","#FFFF00","#008000","#00FFFF","#0000FF","#FF00FF","#800080"]}},"shape":{"field":"k","type":"nominal","scale":{"domain":[0,1,2,3,4,5,6,7,8,9,10],"range":["circle","square","triangle-up","diamond","triangle-down","circle","square","triangle-up","diamond","triangle-down","square"]}}}}
    ]},
   {"width":167,"height":116.5,"title":{"text":"(l)","anchor":"start","frame":"group","dx":-18,"offset":10,"fontSize":18,"fontWeight":300},"transform":[{"filter":"datum.p=='l'"}],
    "encoding":{"x":{"field":"t","type":"quantitative","scale":{"domain":[0,24]},"axis":{"values":[0,4,8,12,16,20,24],"title":null}},"y":{"field":"v","type":"quantitative","scale":{"domain":[0,10]},"axis":{"values":[0,2,4,6,8,10],"title":null}}},
    "resolve":{"axis":{"y":"independent"}},
    "layer":[
     {"mark":{"type":"line","strokeWidth":1},"encoding":{"color":{"field":"k","type":"nominal","scale":{"domain":[0,1,2,3,4,5,6,7,8,9,10],"range":["#000000","#000000","#8B0000","#FF0000","#FF8C1A","#FFFF00","#008000","#00FFFF","#0000FF","#FF00FF","#800080"]}},"strokeDash":{"field":"k","type":"nominal","scale":{"domain":[0,1,2,3,4,5,6,7,8,9,10],"range":[[1,0],[5,3],[5,3],[5,3],[5,3],[5,3],[1,0],[5,3],[5,3],[5,3],[5,3]]}}}},
     {"mark":{"type":"point","filled":true,"size":27,"opacity":1,"stroke":"#333333","strokeWidth":0.5},"encoding":{"y":{"field":"v","type":"quantitative","scale":{"domain":[0,10]},"axis":{"orient":"right","title":"With aac(6’)-Ib","labels":false,"ticks":false,"domain":false,"titleColor":"#008000","titleFontSize":15,"titleAngle":90,"titlePadding":28}},"fill":{"field":"k","type":"nominal","scale":{"domain":[0,1,2,3,4,5,6,7,8,9,10],"range":["#000000","#FFFFFF","#8B0000","#FF0000","#FF8C1A","#FFFF00","#008000","#00FFFF","#0000FF","#FF00FF","#800080"]}},"shape":{"field":"k","type":"nominal","scale":{"domain":[0,1,2,3,4,5,6,7,8,9,10],"range":["circle","square","triangle-up","diamond","triangle-down","circle","square","triangle-up","diamond","triangle-down","square"]}}}}
    ]},
   {"width":167,"height":116.5,"title":{"text":"(o)","anchor":"start","frame":"group","dx":-18,"offset":10,"fontSize":18,"fontWeight":300},"transform":[{"filter":"datum.p=='o'"}],
    "encoding":{"x":{"field":"t","type":"quantitative","scale":{"domain":[0,24]},"axis":{"values":[0,4,8,12,16,20,24],"title":null}},"y":{"field":"v","type":"quantitative","scale":{"domain":[0,10]},"axis":{"values":[0,2,4,6,8,10],"title":null}}},
    "resolve":{"axis":{"y":"independent"}},
    "layer":[
     {"mark":{"type":"line","strokeWidth":1},"encoding":{"color":{"field":"k","type":"nominal","scale":{"domain":[0,1,2,3,4,5,6,7,8,9,10],"range":["#000000","#000000","#8B0000","#FF0000","#FF8C1A","#FFFF00","#008000","#00FFFF","#0000FF","#FF00FF","#800080"]}},"strokeDash":{"field":"k","type":"nominal","scale":{"domain":[0,1,2,3,4,5,6,7,8,9,10],"range":[[1,0],[5,3],[5,3],[5,3],[5,3],[5,3],[1,0],[5,3],[5,3],[5,3],[5,3]]}}}},
     {"mark":{"type":"point","filled":true,"size":27,"opacity":1,"stroke":"#333333","strokeWidth":0.5},"encoding":{"y":{"field":"v","type":"quantitative","scale":{"domain":[0,10]},"axis":{"orient":"right","title":"With aac(6’)-Ib","labels":false,"ticks":false,"domain":false,"titleColor":"#008000","titleFontSize":15,"titleAngle":90,"titlePadding":28}},"fill":{"field":"k","type":"nominal","scale":{"domain":[0,1,2,3,4,5,6,7,8,9,10],"range":["#000000","#FFFFFF","#8B0000","#FF0000","#FF8C1A","#FFFF00","#008000","#00FFFF","#0000FF","#FF00FF","#800080"]}},"shape":{"field":"k","type":"nominal","scale":{"domain":[0,1,2,3,4,5,6,7,8,9,10],"range":["circle","square","triangle-up","diamond","triangle-down","circle","square","triangle-up","diamond","triangle-down","square"]}}}}
    ]},
   {"width":167,"height":116.5,"title":{"text":"(r)","anchor":"start","frame":"group","dx":-18,"offset":10,"fontSize":18,"fontWeight":300},"transform":[{"filter":"datum.p=='r'"}],
    "encoding":{"x":{"field":"t","type":"quantitative","scale":{"domain":[0,24]},"axis":{"values":[0,4,8,12,16,20,24],"title":null}},"y":{"field":"v","type":"quantitative","scale":{"domain":[0,10]},"axis":{"values":[0,2,4,6,8,10],"title":null}}},
    "resolve":{"axis":{"y":"independent"}},
    "layer":[
     {"mark":{"type":"line","strokeWidth":1},"encoding":{"color":{"field":"k","type":"nominal","scale":{"domain":[0,1,2,3,4,5,6,7,8,9,10],"range":["#000000","#000000","#8B0000","#FF0000","#FF8C1A","#FFFF00","#008000","#00FFFF","#0000FF","#FF00FF","#800080"]}},"strokeDash":{"field":"k","type":"nominal","scale":{"domain":[0,1,2,3,4,5,6,7,8,9,10],"range":[[1,0],[5,3],[5,3],[5,3],[5,3],[5,3],[1,0],[5,3],[5,3],[5,3],[5,3]]}}}},
     {"mark":{"type":"point","filled":true,"size":27,"opacity":1,"stroke":"#333333","strokeWidth":0.5},"encoding":{"y":{"field":"v","type":"quantitative","scale":{"domain":[0,10]},"axis":{"orient":"right","title":"With aac(6’)-Ib","labels":false,"ticks":false,"domain":false,"titleColor":"#008000","titleFontSize":15,"titleAngle":90,"titlePadding":28}},"fill":{"field":"k","type":"nominal","scale":{"domain":[0,1,2,3,4,5,6,7,8,9,10],"range":["#000000","#FFFFFF","#8B0000","#FF0000","#FF8C1A","#FFFF00","#008000","#00FFFF","#0000FF","#FF00FF","#800080"]}},"shape":{"field":"k","type":"nominal","scale":{"domain":[0,1,2,3,4,5,6,7,8,9,10],"range":["circle","square","triangle-up","diamond","triangle-down","circle","square","triangle-up","diamond","triangle-down","square"]}}}}
    ]},
   {"width":120,"height":134,"view":{"stroke":"#8c8c8c","strokeWidth":1.5},"data":{"name":"lgG"},
    "encoding":{"y":{"field":"k","type":"ordinal","scale":{"type":"point","domain":[0,1,2,3,4,5,6,7,8,9,10],"padding":0.877},"axis":null}},
    "layer":[
     {"mark":{"type":"rule","strokeWidth":1.6},"encoding":{"x":{"datum":4,"type":"quantitative","scale":{"domain":[0,120]},"axis":null},"x2":{"datum":38},"color":{"field":"k","type":"nominal","scale":{"domain":[0,1,2,3,4,5,6,7,8,9,10],"range":["#000000","#000000","#8B0000","#FF0000","#FF8C1A","#FFFF00","#008000","#00FFFF","#0000FF","#FF00FF","#800080"]}},"strokeDash":{"field":"k","type":"nominal","scale":{"domain":[0,1,2,3,4,5,6,7,8,9,10],"range":[[1,0],[5,3],[5,3],[5,3],[5,3],[5,3],[1,0],[5,3],[5,3],[5,3],[5,3]]}}}},
     {"mark":{"type":"point","filled":true,"size":60,"opacity":1,"stroke":"#333333","strokeWidth":0.7},"encoding":{"x":{"datum":21,"type":"quantitative"},"fill":{"field":"k","type":"nominal","scale":{"domain":[0,1,2,3,4,5,6,7,8,9,10],"range":["#000000","#FFFFFF","#8B0000","#FF0000","#FF8C1A","#FFFF00","#008000","#00FFFF","#0000FF","#FF00FF","#800080"]}},"shape":{"field":"k","type":"nominal","scale":{"domain":[0,1,2,3,4,5,6,7,8,9,10],"range":["circle","square","triangle-up","diamond","triangle-down","circle","square","triangle-up","diamond","triangle-down","square"]}}}},
     {"transform":[{"filter":"datum.k==0"}],"mark":{"type":"text","align":"left","baseline":"middle","font":"Liberation Sans","fontSize":9.5,"fontWeight":"bold","color":"#222"},"encoding":{"x":{"datum":47,"type":"quantitative"},"text":{"field":"label"}}},
     {"transform":[{"filter":"datum.k>0"}],"mark":{"type":"text","align":"right","baseline":"middle","font":"Liberation Sans","fontSize":9.5,"fontWeight":"bold","color":"#222"},"encoding":{"x":{"datum":91,"type":"quantitative"},"text":{"field":"label"}}}
    ]}
  ]}
],
"config":{
 "font":"Open Sans",
 "view":{"stroke":null},
 "legend":{"disable":true},
 "title":{"font":"Open Sans","color":"#000000"},
 "axis":{"grid":false,"domainColor":"#000000","domainWidth":1,"tickColor":"#000000","tickSize":2.5,"tickWidth":0.8,"labelFont":"Liberation Sans","labelFontSize":5.8,"labelFontWeight":"bold","labelColor":"#000000","labelPadding":1.5,"titleFont":"Open Sans","titleFontWeight":"normal","titleColor":"#000000"},
 "axisY":{"titleFontSize":16,"titlePadding":24},
 "axisX":{"titleFontSize":19,"titleFontWeight":"bold","titlePadding":8}
}
}
